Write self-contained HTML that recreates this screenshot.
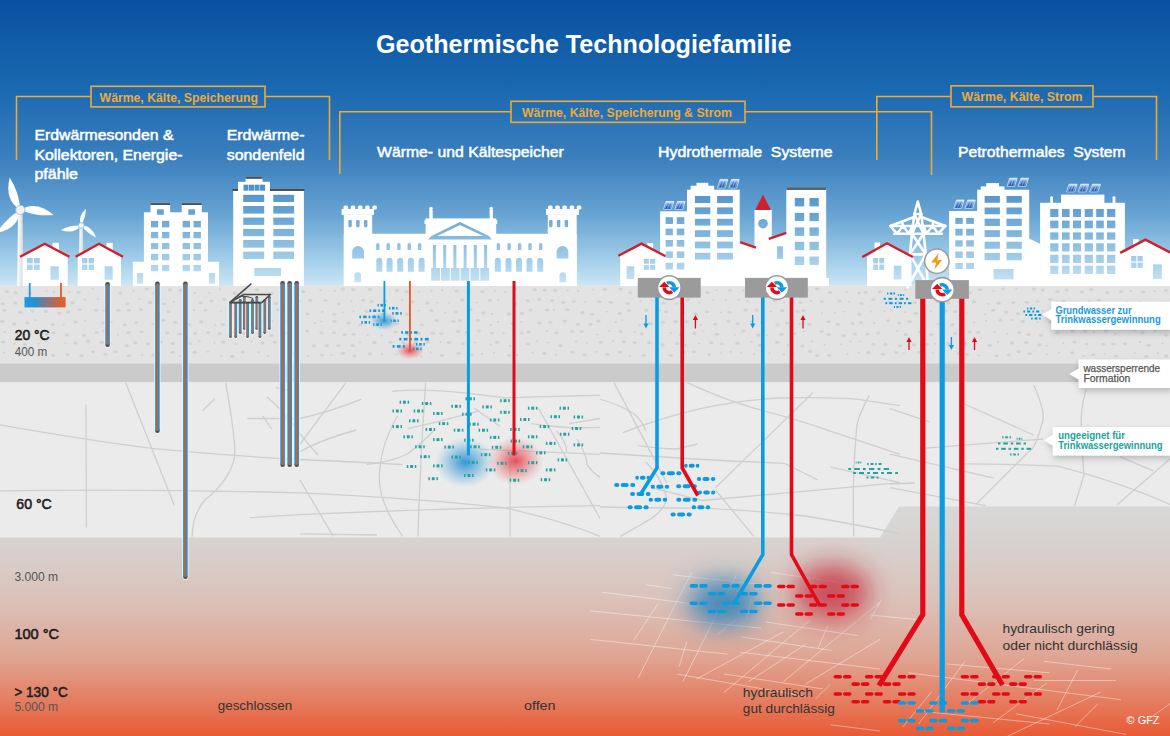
<!DOCTYPE html>
<html><head><meta charset="utf-8"><title>Geothermische Technologiefamilie</title>
<style>html,body{margin:0;padding:0;width:1170px;height:736px;overflow:hidden;background:#fff}svg{display:block}text{font-family:"Liberation Sans",sans-serif}</style>
</head><body>
<svg width="1170" height="736" viewBox="0 0 1170 736">
<defs>
<linearGradient id="sky" gradientUnits="userSpaceOnUse" x1="0" y1="0" x2="0" y2="290">
 <stop offset="0" stop-color="#0951a0"/>
 <stop offset="0.30" stop-color="#1a68b0"/>
 <stop offset="0.55" stop-color="#3c80be"/>
 <stop offset="0.75" stop-color="#6aa6d4"/>
 <stop offset="0.90" stop-color="#a4cfea"/>
 <stop offset="1" stop-color="#d2eaf7"/>
</linearGradient>
<linearGradient id="deep" gradientUnits="userSpaceOnUse" x1="0" y1="505" x2="0" y2="736">
 <stop offset="0" stop-color="#d8d8d8"/>
 <stop offset="0.14" stop-color="#d7d3d1"/>
 <stop offset="0.40" stop-color="#dac3bb"/>
 <stop offset="0.66" stop-color="#dfa593"/>
 <stop offset="0.84" stop-color="#e47f63"/>
 <stop offset="1" stop-color="#e95a33"/>
</linearGradient>
<linearGradient id="coll" x1="0" y1="0" x2="1" y2="0">
 <stop offset="0" stop-color="#1a9be0"/>
 <stop offset="0.25" stop-color="#2a8fcf"/>
 <stop offset="0.55" stop-color="#8a7480"/>
 <stop offset="1" stop-color="#ef5a22"/>
</linearGradient>
<linearGradient id="solar" x1="0" y1="0" x2="0" y2="1"><stop offset="0" stop-color="#f4f9ff"/><stop offset="0.35" stop-color="#5f8fd6"/><stop offset="1" stop-color="#0c45a6"/></linearGradient>
<linearGradient id="tower" x1="0" y1="0" x2="1" y2="0">
 <stop offset="0" stop-color="#ffffff"/>
 <stop offset="1" stop-color="#d6d6d6"/>
</linearGradient>
<radialGradient id="gBlue"><stop offset="0" stop-color="#2b93d6" stop-opacity="0.95"/><stop offset="0.5" stop-color="#48a0d8" stop-opacity="0.5"/><stop offset="1" stop-color="#6ab4e0" stop-opacity="0"/></radialGradient>
<radialGradient id="gRed"><stop offset="0" stop-color="#e63c48" stop-opacity="0.9"/><stop offset="0.5" stop-color="#e8555e" stop-opacity="0.45"/><stop offset="1" stop-color="#ec7076" stop-opacity="0"/></radialGradient>
<radialGradient id="gBlueD"><stop offset="0" stop-color="#3486ba" stop-opacity="0.95"/><stop offset="0.55" stop-color="#4a8fbd" stop-opacity="0.6"/><stop offset="1" stop-color="#5a9dc6" stop-opacity="0"/></radialGradient>
<radialGradient id="gRedD"><stop offset="0" stop-color="#c8202e" stop-opacity="0.85"/><stop offset="0.5" stop-color="#cc2c3a" stop-opacity="0.6"/><stop offset="1" stop-color="#d84050" stop-opacity="0"/></radialGradient>
<filter id="blur14" x="-100%" y="-100%" width="300%" height="300%"><feGaussianBlur stdDeviation="13"/></filter>
<filter id="blur6" x="-100%" y="-100%" width="300%" height="300%"><feGaussianBlur stdDeviation="6"/></filter>
<filter id="shadow" x="-20%" y="-30%" width="140%" height="170%"><feDropShadow dx="1" dy="3" stdDeviation="3.2" flood-color="#000" flood-opacity="0.22"/></filter>
</defs>
<rect x="0" y="0" width="1170" height="290" fill="url(#sky)"/>
<rect x="0" y="500" width="1170" height="236" fill="url(#deep)"/>
<rect x="0" y="285" width="1170" height="79" fill="#e3e3e3"/>
<rect x="0" y="363.5" width="1170" height="19" fill="#cbcbcb"/>
<polygon points="0,382.5 1170,382.5 1170,506.5 899,506.5 880,537.5 0,537.5" fill="#ebebeb"/>
<g fill="#d2d2d2"><ellipse cx="-7.8" cy="291.2" rx="2.2" ry="1.55"/><ellipse cx="7.2" cy="291.6" rx="2.2" ry="1.55"/><ellipse cx="15.6" cy="292.7" rx="2.2" ry="1.55"/><ellipse cx="29.6" cy="293.5" rx="2.2" ry="1.55"/><ellipse cx="46.4" cy="290.9" rx="1.3" ry="0.95"/><ellipse cx="54.1" cy="291.7" rx="1.3" ry="0.95"/><ellipse cx="69.2" cy="292.2" rx="1.3" ry="0.95"/><ellipse cx="78.4" cy="292.3" rx="2.2" ry="1.55"/><ellipse cx="92.6" cy="288.7" rx="1.3" ry="0.95"/><ellipse cx="106.3" cy="292.1" rx="1.3" ry="0.95"/><ellipse cx="120.5" cy="293.1" rx="2.2" ry="1.55"/><ellipse cx="133.6" cy="290.7" rx="1.3" ry="0.95"/><ellipse cx="146.7" cy="289.0" rx="2.2" ry="1.55"/><ellipse cx="154.5" cy="293.3" rx="2.2" ry="1.55"/><ellipse cx="169.9" cy="290.0" rx="2.2" ry="1.55"/><ellipse cx="180.7" cy="290.3" rx="2.2" ry="1.55"/><ellipse cx="194.6" cy="293.0" rx="1.3" ry="0.95"/><ellipse cx="209.5" cy="292.8" rx="1.3" ry="0.95"/><ellipse cx="220.2" cy="289.3" rx="1.3" ry="0.95"/><ellipse cx="234.8" cy="293.0" rx="2.2" ry="1.55"/><ellipse cx="245.5" cy="289.6" rx="1.3" ry="0.95"/><ellipse cx="257.0" cy="289.9" rx="2.2" ry="1.55"/><ellipse cx="271.5" cy="293.4" rx="2.2" ry="1.55"/><ellipse cx="283.6" cy="290.6" rx="2.2" ry="1.55"/><ellipse cx="292.6" cy="292.3" rx="1.3" ry="0.95"/><ellipse cx="303.3" cy="291.6" rx="2.2" ry="1.55"/><ellipse cx="320.5" cy="290.2" rx="1.3" ry="0.95"/><ellipse cx="334.9" cy="291.0" rx="1.3" ry="0.95"/><ellipse cx="342.7" cy="288.9" rx="2.2" ry="1.55"/><ellipse cx="353.2" cy="289.5" rx="2.2" ry="1.55"/><ellipse cx="369.8" cy="289.3" rx="2.2" ry="1.55"/><ellipse cx="384.1" cy="290.1" rx="1.3" ry="0.95"/><ellipse cx="396.8" cy="290.4" rx="2.2" ry="1.55"/><ellipse cx="406.6" cy="291.7" rx="2.2" ry="1.55"/><ellipse cx="419.4" cy="291.6" rx="1.3" ry="0.95"/><ellipse cx="431.5" cy="290.7" rx="1.3" ry="0.95"/><ellipse cx="442.2" cy="290.0" rx="1.3" ry="0.95"/><ellipse cx="456.6" cy="291.2" rx="2.2" ry="1.55"/><ellipse cx="468.4" cy="291.4" rx="2.2" ry="1.55"/><ellipse cx="482.3" cy="291.7" rx="2.2" ry="1.55"/><ellipse cx="494.9" cy="290.8" rx="1.3" ry="0.95"/><ellipse cx="505.5" cy="292.0" rx="1.3" ry="0.95"/><ellipse cx="515.7" cy="288.8" rx="1.3" ry="0.95"/><ellipse cx="534.7" cy="289.8" rx="2.2" ry="1.55"/><ellipse cx="544.6" cy="290.1" rx="2.2" ry="1.55"/><ellipse cx="555.2" cy="290.3" rx="2.2" ry="1.55"/><ellipse cx="567.6" cy="290.4" rx="1.3" ry="0.95"/><ellipse cx="578.2" cy="291.3" rx="1.3" ry="0.95"/><ellipse cx="592.7" cy="289.6" rx="1.3" ry="0.95"/><ellipse cx="604.7" cy="289.4" rx="2.2" ry="1.55"/><ellipse cx="620.4" cy="289.0" rx="2.2" ry="1.55"/><ellipse cx="630.3" cy="292.7" rx="2.2" ry="1.55"/><ellipse cx="646.5" cy="289.3" rx="2.2" ry="1.55"/><ellipse cx="657.6" cy="292.9" rx="2.2" ry="1.55"/><ellipse cx="667.1" cy="289.1" rx="2.2" ry="1.55"/><ellipse cx="679.3" cy="292.5" rx="1.3" ry="0.95"/><ellipse cx="691.8" cy="289.9" rx="1.3" ry="0.95"/><ellipse cx="707.5" cy="292.5" rx="2.2" ry="1.55"/><ellipse cx="716.4" cy="290.0" rx="1.3" ry="0.95"/><ellipse cx="729.9" cy="290.2" rx="2.2" ry="1.55"/><ellipse cx="743.4" cy="290.5" rx="1.3" ry="0.95"/><ellipse cx="754.1" cy="288.5" rx="1.3" ry="0.95"/><ellipse cx="771.7" cy="293.4" rx="2.2" ry="1.55"/><ellipse cx="784.7" cy="293.1" rx="2.2" ry="1.55"/><ellipse cx="795.7" cy="292.7" rx="1.3" ry="0.95"/><ellipse cx="806.6" cy="289.9" rx="2.2" ry="1.55"/><ellipse cx="817.1" cy="288.8" rx="2.2" ry="1.55"/><ellipse cx="830.0" cy="292.6" rx="2.2" ry="1.55"/><ellipse cx="846.8" cy="292.0" rx="1.3" ry="0.95"/><ellipse cx="859.3" cy="293.0" rx="2.2" ry="1.55"/><ellipse cx="865.6" cy="292.2" rx="2.2" ry="1.55"/><ellipse cx="880.1" cy="291.8" rx="2.2" ry="1.55"/><ellipse cx="893.4" cy="293.2" rx="2.2" ry="1.55"/><ellipse cx="905.4" cy="289.8" rx="1.3" ry="0.95"/><ellipse cx="918.8" cy="292.4" rx="2.2" ry="1.55"/><ellipse cx="929.4" cy="291.2" rx="1.3" ry="0.95"/><ellipse cx="941.7" cy="292.5" rx="1.3" ry="0.95"/><ellipse cx="958.6" cy="292.6" rx="2.2" ry="1.55"/><ellipse cx="969.9" cy="292.8" rx="2.2" ry="1.55"/><ellipse cx="979.9" cy="289.8" rx="2.2" ry="1.55"/><ellipse cx="993.5" cy="290.9" rx="1.3" ry="0.95"/><ellipse cx="1003.0" cy="288.8" rx="2.2" ry="1.55"/><ellipse cx="1016.4" cy="288.8" rx="1.3" ry="0.95"/><ellipse cx="1034.0" cy="288.9" rx="2.2" ry="1.55"/><ellipse cx="1042.7" cy="290.1" rx="2.2" ry="1.55"/><ellipse cx="1057.5" cy="291.4" rx="2.2" ry="1.55"/><ellipse cx="1066.8" cy="290.1" rx="2.2" ry="1.55"/><ellipse cx="1081.9" cy="292.1" rx="2.2" ry="1.55"/><ellipse cx="1091.1" cy="289.4" rx="2.2" ry="1.55"/><ellipse cx="1107.2" cy="292.4" rx="2.2" ry="1.55"/><ellipse cx="1121.1" cy="291.6" rx="2.2" ry="1.55"/><ellipse cx="1130.6" cy="291.0" rx="1.3" ry="0.95"/><ellipse cx="1143.4" cy="292.0" rx="2.2" ry="1.55"/><ellipse cx="1154.7" cy="291.2" rx="1.3" ry="0.95"/><ellipse cx="1166.0" cy="290.6" rx="2.2" ry="1.55"/><ellipse cx="2.7" cy="303.7" rx="2.2" ry="1.55"/><ellipse cx="15.3" cy="303.0" rx="2.2" ry="1.55"/><ellipse cx="24.7" cy="299.6" rx="1.3" ry="0.95"/><ellipse cx="38.6" cy="303.4" rx="1.3" ry="0.95"/><ellipse cx="51.2" cy="302.7" rx="2.2" ry="1.55"/><ellipse cx="59.7" cy="301.9" rx="2.2" ry="1.55"/><ellipse cx="72.5" cy="302.9" rx="2.2" ry="1.55"/><ellipse cx="84.6" cy="299.5" rx="1.3" ry="0.95"/><ellipse cx="97.8" cy="299.1" rx="1.3" ry="0.95"/><ellipse cx="109.8" cy="303.2" rx="1.3" ry="0.95"/><ellipse cx="127.4" cy="303.8" rx="2.2" ry="1.55"/><ellipse cx="139.6" cy="299.2" rx="1.3" ry="0.95"/><ellipse cx="150.1" cy="302.6" rx="2.2" ry="1.55"/><ellipse cx="164.2" cy="303.7" rx="2.2" ry="1.55"/><ellipse cx="173.8" cy="301.8" rx="1.3" ry="0.95"/><ellipse cx="185.7" cy="299.9" rx="2.2" ry="1.55"/><ellipse cx="200.8" cy="302.8" rx="2.2" ry="1.55"/><ellipse cx="211.6" cy="301.0" rx="2.2" ry="1.55"/><ellipse cx="224.4" cy="299.4" rx="2.2" ry="1.55"/><ellipse cx="240.8" cy="301.1" rx="1.3" ry="0.95"/><ellipse cx="247.6" cy="302.5" rx="1.3" ry="0.95"/><ellipse cx="263.7" cy="301.6" rx="2.2" ry="1.55"/><ellipse cx="276.0" cy="303.5" rx="2.2" ry="1.55"/><ellipse cx="284.7" cy="302.7" rx="1.3" ry="0.95"/><ellipse cx="300.1" cy="301.2" rx="1.3" ry="0.95"/><ellipse cx="310.3" cy="300.3" rx="2.2" ry="1.55"/><ellipse cx="325.6" cy="300.6" rx="2.2" ry="1.55"/><ellipse cx="338.8" cy="303.8" rx="2.2" ry="1.55"/><ellipse cx="351.4" cy="301.1" rx="1.3" ry="0.95"/><ellipse cx="363.1" cy="300.3" rx="2.2" ry="1.55"/><ellipse cx="371.7" cy="301.4" rx="2.2" ry="1.55"/><ellipse cx="385.2" cy="300.8" rx="2.2" ry="1.55"/><ellipse cx="401.9" cy="299.7" rx="1.3" ry="0.95"/><ellipse cx="412.4" cy="302.0" rx="2.2" ry="1.55"/><ellipse cx="427.3" cy="303.1" rx="2.2" ry="1.55"/><ellipse cx="437.4" cy="302.6" rx="1.3" ry="0.95"/><ellipse cx="449.3" cy="302.7" rx="1.3" ry="0.95"/><ellipse cx="462.3" cy="300.1" rx="2.2" ry="1.55"/><ellipse cx="476.5" cy="302.4" rx="1.3" ry="0.95"/><ellipse cx="490.0" cy="300.2" rx="2.2" ry="1.55"/><ellipse cx="498.3" cy="299.9" rx="1.3" ry="0.95"/><ellipse cx="515.0" cy="303.5" rx="2.2" ry="1.55"/><ellipse cx="527.6" cy="300.6" rx="2.2" ry="1.55"/><ellipse cx="539.1" cy="299.4" rx="2.2" ry="1.55"/><ellipse cx="552.3" cy="300.5" rx="2.2" ry="1.55"/><ellipse cx="563.1" cy="302.4" rx="2.2" ry="1.55"/><ellipse cx="573.8" cy="301.2" rx="2.2" ry="1.55"/><ellipse cx="585.5" cy="301.9" rx="1.3" ry="0.95"/><ellipse cx="599.2" cy="301.7" rx="2.2" ry="1.55"/><ellipse cx="610.9" cy="302.3" rx="2.2" ry="1.55"/><ellipse cx="627.7" cy="303.5" rx="2.2" ry="1.55"/><ellipse cx="640.6" cy="300.9" rx="1.3" ry="0.95"/><ellipse cx="651.8" cy="300.5" rx="1.3" ry="0.95"/><ellipse cx="663.6" cy="303.0" rx="2.2" ry="1.55"/><ellipse cx="676.8" cy="303.8" rx="1.3" ry="0.95"/><ellipse cx="687.8" cy="299.6" rx="2.2" ry="1.55"/><ellipse cx="699.0" cy="302.6" rx="1.3" ry="0.95"/><ellipse cx="713.0" cy="299.9" rx="1.3" ry="0.95"/><ellipse cx="725.9" cy="299.9" rx="1.3" ry="0.95"/><ellipse cx="738.6" cy="299.6" rx="1.3" ry="0.95"/><ellipse cx="747.5" cy="300.7" rx="1.3" ry="0.95"/><ellipse cx="763.2" cy="301.8" rx="1.3" ry="0.95"/><ellipse cx="774.7" cy="300.6" rx="2.2" ry="1.55"/><ellipse cx="784.5" cy="302.6" rx="1.3" ry="0.95"/><ellipse cx="800.3" cy="302.7" rx="2.2" ry="1.55"/><ellipse cx="810.9" cy="300.9" rx="1.3" ry="0.95"/><ellipse cx="821.8" cy="301.5" rx="2.2" ry="1.55"/><ellipse cx="839.4" cy="300.8" rx="2.2" ry="1.55"/><ellipse cx="849.3" cy="301.7" rx="1.3" ry="0.95"/><ellipse cx="861.5" cy="303.2" rx="2.2" ry="1.55"/><ellipse cx="873.4" cy="299.5" rx="2.2" ry="1.55"/><ellipse cx="889.5" cy="302.6" rx="2.2" ry="1.55"/><ellipse cx="897.8" cy="301.1" rx="1.3" ry="0.95"/><ellipse cx="914.7" cy="302.7" rx="2.2" ry="1.55"/><ellipse cx="922.5" cy="301.0" rx="2.2" ry="1.55"/><ellipse cx="937.7" cy="301.8" rx="2.2" ry="1.55"/><ellipse cx="948.3" cy="302.9" rx="2.2" ry="1.55"/><ellipse cx="964.6" cy="303.5" rx="1.3" ry="0.95"/><ellipse cx="974.2" cy="301.8" rx="2.2" ry="1.55"/><ellipse cx="988.4" cy="303.9" rx="1.3" ry="0.95"/><ellipse cx="998.6" cy="303.3" rx="2.2" ry="1.55"/><ellipse cx="1013.2" cy="302.6" rx="2.2" ry="1.55"/><ellipse cx="1026.9" cy="302.3" rx="2.2" ry="1.55"/><ellipse cx="1037.7" cy="301.3" rx="2.2" ry="1.55"/><ellipse cx="1050.2" cy="299.2" rx="2.2" ry="1.55"/><ellipse cx="1063.5" cy="301.2" rx="2.2" ry="1.55"/><ellipse cx="1078.2" cy="303.5" rx="2.2" ry="1.55"/><ellipse cx="1089.5" cy="302.1" rx="2.2" ry="1.55"/><ellipse cx="1099.0" cy="300.2" rx="2.2" ry="1.55"/><ellipse cx="1112.8" cy="303.6" rx="2.2" ry="1.55"/><ellipse cx="1127.6" cy="302.5" rx="2.2" ry="1.55"/><ellipse cx="1140.0" cy="302.0" rx="1.3" ry="0.95"/><ellipse cx="1151.5" cy="302.7" rx="2.2" ry="1.55"/><ellipse cx="1164.6" cy="303.7" rx="1.3" ry="0.95"/><ellipse cx="1174.6" cy="302.8" rx="2.2" ry="1.55"/><ellipse cx="-8.7" cy="309.7" rx="2.2" ry="1.55"/><ellipse cx="4.4" cy="310.3" rx="2.2" ry="1.55"/><ellipse cx="20.4" cy="312.2" rx="2.2" ry="1.55"/><ellipse cx="32.5" cy="311.0" rx="2.2" ry="1.55"/><ellipse cx="45.8" cy="311.5" rx="2.2" ry="1.55"/><ellipse cx="59.3" cy="313.1" rx="2.2" ry="1.55"/><ellipse cx="68.1" cy="312.1" rx="2.2" ry="1.55"/><ellipse cx="79.6" cy="309.5" rx="2.2" ry="1.55"/><ellipse cx="96.0" cy="310.2" rx="2.2" ry="1.55"/><ellipse cx="104.4" cy="310.5" rx="2.2" ry="1.55"/><ellipse cx="118.3" cy="310.3" rx="2.2" ry="1.55"/><ellipse cx="128.8" cy="310.3" rx="2.2" ry="1.55"/><ellipse cx="140.9" cy="309.6" rx="2.2" ry="1.55"/><ellipse cx="155.9" cy="313.0" rx="2.2" ry="1.55"/><ellipse cx="168.3" cy="311.5" rx="2.2" ry="1.55"/><ellipse cx="184.8" cy="310.6" rx="2.2" ry="1.55"/><ellipse cx="193.8" cy="310.3" rx="1.3" ry="0.95"/><ellipse cx="205.4" cy="310.1" rx="2.2" ry="1.55"/><ellipse cx="220.6" cy="310.9" rx="1.3" ry="0.95"/><ellipse cx="231.3" cy="314.2" rx="2.2" ry="1.55"/><ellipse cx="242.2" cy="310.8" rx="1.3" ry="0.95"/><ellipse cx="257.4" cy="311.2" rx="2.2" ry="1.55"/><ellipse cx="270.3" cy="314.3" rx="2.2" ry="1.55"/><ellipse cx="278.0" cy="309.7" rx="2.2" ry="1.55"/><ellipse cx="291.7" cy="309.7" rx="2.2" ry="1.55"/><ellipse cx="307.6" cy="314.0" rx="2.2" ry="1.55"/><ellipse cx="322.3" cy="311.9" rx="1.3" ry="0.95"/><ellipse cx="334.4" cy="314.2" rx="2.2" ry="1.55"/><ellipse cx="342.6" cy="312.5" rx="1.3" ry="0.95"/><ellipse cx="353.6" cy="311.0" rx="1.3" ry="0.95"/><ellipse cx="366.3" cy="311.4" rx="2.2" ry="1.55"/><ellipse cx="382.8" cy="314.1" rx="2.2" ry="1.55"/><ellipse cx="395.7" cy="313.2" rx="1.3" ry="0.95"/><ellipse cx="406.9" cy="314.1" rx="2.2" ry="1.55"/><ellipse cx="418.4" cy="310.6" rx="1.3" ry="0.95"/><ellipse cx="431.4" cy="310.8" rx="2.2" ry="1.55"/><ellipse cx="445.5" cy="312.5" rx="1.3" ry="0.95"/><ellipse cx="455.7" cy="311.9" rx="2.2" ry="1.55"/><ellipse cx="470.5" cy="309.6" rx="2.2" ry="1.55"/><ellipse cx="483.3" cy="312.9" rx="2.2" ry="1.55"/><ellipse cx="492.2" cy="313.7" rx="1.3" ry="0.95"/><ellipse cx="509.1" cy="313.9" rx="2.2" ry="1.55"/><ellipse cx="521.8" cy="313.2" rx="2.2" ry="1.55"/><ellipse cx="530.6" cy="309.9" rx="2.2" ry="1.55"/><ellipse cx="547.2" cy="310.0" rx="2.2" ry="1.55"/><ellipse cx="553.8" cy="309.9" rx="1.3" ry="0.95"/><ellipse cx="567.2" cy="309.7" rx="2.2" ry="1.55"/><ellipse cx="582.5" cy="312.4" rx="2.2" ry="1.55"/><ellipse cx="592.1" cy="314.3" rx="2.2" ry="1.55"/><ellipse cx="606.9" cy="311.6" rx="1.3" ry="0.95"/><ellipse cx="619.7" cy="313.4" rx="2.2" ry="1.55"/><ellipse cx="629.3" cy="310.4" rx="2.2" ry="1.55"/><ellipse cx="646.3" cy="310.1" rx="2.2" ry="1.55"/><ellipse cx="659.8" cy="310.5" rx="1.3" ry="0.95"/><ellipse cx="666.1" cy="311.8" rx="2.2" ry="1.55"/><ellipse cx="683.8" cy="312.6" rx="1.3" ry="0.95"/><ellipse cx="695.8" cy="313.9" rx="2.2" ry="1.55"/><ellipse cx="707.2" cy="311.7" rx="2.2" ry="1.55"/><ellipse cx="721.3" cy="312.5" rx="1.3" ry="0.95"/><ellipse cx="729.4" cy="312.2" rx="2.2" ry="1.55"/><ellipse cx="745.6" cy="309.9" rx="2.2" ry="1.55"/><ellipse cx="756.4" cy="309.9" rx="2.2" ry="1.55"/><ellipse cx="770.6" cy="311.6" rx="1.3" ry="0.95"/><ellipse cx="782.2" cy="310.6" rx="2.2" ry="1.55"/><ellipse cx="797.5" cy="311.2" rx="2.2" ry="1.55"/><ellipse cx="803.6" cy="310.6" rx="2.2" ry="1.55"/><ellipse cx="822.0" cy="313.1" rx="1.3" ry="0.95"/><ellipse cx="834.9" cy="312.6" rx="1.3" ry="0.95"/><ellipse cx="844.3" cy="311.6" rx="1.3" ry="0.95"/><ellipse cx="859.3" cy="314.2" rx="2.2" ry="1.55"/><ellipse cx="870.9" cy="311.5" rx="1.3" ry="0.95"/><ellipse cx="884.4" cy="311.0" rx="1.3" ry="0.95"/><ellipse cx="891.8" cy="310.0" rx="1.3" ry="0.95"/><ellipse cx="905.1" cy="312.1" rx="1.3" ry="0.95"/><ellipse cx="915.8" cy="313.2" rx="2.2" ry="1.55"/><ellipse cx="931.0" cy="311.2" rx="1.3" ry="0.95"/><ellipse cx="945.7" cy="310.9" rx="2.2" ry="1.55"/><ellipse cx="955.1" cy="311.6" rx="2.2" ry="1.55"/><ellipse cx="966.6" cy="313.3" rx="1.3" ry="0.95"/><ellipse cx="984.8" cy="314.4" rx="1.3" ry="0.95"/><ellipse cx="993.1" cy="310.3" rx="2.2" ry="1.55"/><ellipse cx="1006.2" cy="312.1" rx="2.2" ry="1.55"/><ellipse cx="1018.0" cy="313.8" rx="2.2" ry="1.55"/><ellipse cx="1031.2" cy="313.9" rx="1.3" ry="0.95"/><ellipse cx="1042.6" cy="310.7" rx="1.3" ry="0.95"/><ellipse cx="1053.1" cy="310.2" rx="2.2" ry="1.55"/><ellipse cx="1069.3" cy="310.3" rx="2.2" ry="1.55"/><ellipse cx="1079.4" cy="313.3" rx="2.2" ry="1.55"/><ellipse cx="1097.4" cy="313.4" rx="1.3" ry="0.95"/><ellipse cx="1103.2" cy="310.4" rx="2.2" ry="1.55"/><ellipse cx="1118.5" cy="311.2" rx="2.2" ry="1.55"/><ellipse cx="1131.8" cy="310.0" rx="2.2" ry="1.55"/><ellipse cx="1142.2" cy="313.5" rx="2.2" ry="1.55"/><ellipse cx="1154.8" cy="309.7" rx="2.2" ry="1.55"/><ellipse cx="1169.9" cy="312.9" rx="1.3" ry="0.95"/><ellipse cx="2.2" cy="321.2" rx="2.2" ry="1.55"/><ellipse cx="14.3" cy="323.9" rx="2.2" ry="1.55"/><ellipse cx="27.3" cy="322.8" rx="2.2" ry="1.55"/><ellipse cx="35.2" cy="320.1" rx="1.3" ry="0.95"/><ellipse cx="52.8" cy="324.5" rx="2.2" ry="1.55"/><ellipse cx="63.7" cy="324.6" rx="1.3" ry="0.95"/><ellipse cx="75.7" cy="322.1" rx="2.2" ry="1.55"/><ellipse cx="85.2" cy="320.9" rx="1.3" ry="0.95"/><ellipse cx="103.4" cy="322.7" rx="2.2" ry="1.55"/><ellipse cx="111.5" cy="322.3" rx="1.3" ry="0.95"/><ellipse cx="124.7" cy="324.8" rx="2.2" ry="1.55"/><ellipse cx="136.2" cy="322.6" rx="2.2" ry="1.55"/><ellipse cx="152.5" cy="324.1" rx="1.3" ry="0.95"/><ellipse cx="163.3" cy="320.2" rx="2.2" ry="1.55"/><ellipse cx="175.3" cy="322.4" rx="2.2" ry="1.55"/><ellipse cx="189.0" cy="324.6" rx="2.2" ry="1.55"/><ellipse cx="201.2" cy="321.9" rx="2.2" ry="1.55"/><ellipse cx="215.3" cy="324.8" rx="1.3" ry="0.95"/><ellipse cx="222.9" cy="324.6" rx="2.2" ry="1.55"/><ellipse cx="236.7" cy="324.1" rx="2.2" ry="1.55"/><ellipse cx="248.4" cy="324.7" rx="1.3" ry="0.95"/><ellipse cx="261.2" cy="322.0" rx="2.2" ry="1.55"/><ellipse cx="272.4" cy="321.3" rx="1.3" ry="0.95"/><ellipse cx="284.6" cy="321.1" rx="2.2" ry="1.55"/><ellipse cx="297.1" cy="322.6" rx="1.3" ry="0.95"/><ellipse cx="314.9" cy="323.2" rx="1.3" ry="0.95"/><ellipse cx="321.5" cy="321.4" rx="1.3" ry="0.95"/><ellipse cx="334.5" cy="321.3" rx="2.2" ry="1.55"/><ellipse cx="348.4" cy="322.7" rx="2.2" ry="1.55"/><ellipse cx="360.7" cy="324.8" rx="2.2" ry="1.55"/><ellipse cx="377.8" cy="320.9" rx="1.3" ry="0.95"/><ellipse cx="388.7" cy="323.2" rx="2.2" ry="1.55"/><ellipse cx="396.9" cy="323.8" rx="2.2" ry="1.55"/><ellipse cx="410.3" cy="324.1" rx="1.3" ry="0.95"/><ellipse cx="421.8" cy="324.8" rx="2.2" ry="1.55"/><ellipse cx="436.7" cy="320.5" rx="2.2" ry="1.55"/><ellipse cx="453.4" cy="321.4" rx="2.2" ry="1.55"/><ellipse cx="460.0" cy="320.6" rx="2.2" ry="1.55"/><ellipse cx="477.9" cy="320.4" rx="2.2" ry="1.55"/><ellipse cx="490.6" cy="325.0" rx="1.3" ry="0.95"/><ellipse cx="498.2" cy="321.8" rx="1.3" ry="0.95"/><ellipse cx="512.4" cy="323.5" rx="2.2" ry="1.55"/><ellipse cx="521.6" cy="321.7" rx="1.3" ry="0.95"/><ellipse cx="539.5" cy="322.8" rx="2.2" ry="1.55"/><ellipse cx="550.3" cy="322.2" rx="2.2" ry="1.55"/><ellipse cx="564.8" cy="321.0" rx="2.2" ry="1.55"/><ellipse cx="578.0" cy="324.2" rx="2.2" ry="1.55"/><ellipse cx="590.7" cy="324.2" rx="2.2" ry="1.55"/><ellipse cx="598.4" cy="321.0" rx="2.2" ry="1.55"/><ellipse cx="615.8" cy="322.0" rx="1.3" ry="0.95"/><ellipse cx="622.3" cy="320.1" rx="1.3" ry="0.95"/><ellipse cx="639.6" cy="325.0" rx="1.3" ry="0.95"/><ellipse cx="650.2" cy="323.8" rx="2.2" ry="1.55"/><ellipse cx="662.8" cy="322.2" rx="2.2" ry="1.55"/><ellipse cx="675.7" cy="321.6" rx="2.2" ry="1.55"/><ellipse cx="686.6" cy="321.6" rx="2.2" ry="1.55"/><ellipse cx="700.7" cy="324.9" rx="1.3" ry="0.95"/><ellipse cx="715.0" cy="324.2" rx="2.2" ry="1.55"/><ellipse cx="728.3" cy="321.3" rx="2.2" ry="1.55"/><ellipse cx="737.5" cy="323.7" rx="2.2" ry="1.55"/><ellipse cx="751.0" cy="321.4" rx="1.3" ry="0.95"/><ellipse cx="762.2" cy="322.4" rx="2.2" ry="1.55"/><ellipse cx="777.6" cy="324.9" rx="2.2" ry="1.55"/><ellipse cx="787.1" cy="323.1" rx="2.2" ry="1.55"/><ellipse cx="799.5" cy="324.2" rx="1.3" ry="0.95"/><ellipse cx="809.4" cy="324.3" rx="2.2" ry="1.55"/><ellipse cx="828.4" cy="321.8" rx="2.2" ry="1.55"/><ellipse cx="837.8" cy="324.4" rx="2.2" ry="1.55"/><ellipse cx="852.6" cy="323.6" rx="2.2" ry="1.55"/><ellipse cx="861.1" cy="322.5" rx="2.2" ry="1.55"/><ellipse cx="874.1" cy="323.3" rx="1.3" ry="0.95"/><ellipse cx="888.1" cy="320.7" rx="2.2" ry="1.55"/><ellipse cx="899.1" cy="323.1" rx="2.2" ry="1.55"/><ellipse cx="909.6" cy="321.6" rx="2.2" ry="1.55"/><ellipse cx="921.7" cy="322.7" rx="1.3" ry="0.95"/><ellipse cx="937.7" cy="323.7" rx="1.3" ry="0.95"/><ellipse cx="952.4" cy="324.6" rx="2.2" ry="1.55"/><ellipse cx="963.8" cy="320.6" rx="1.3" ry="0.95"/><ellipse cx="974.1" cy="322.4" rx="1.3" ry="0.95"/><ellipse cx="986.0" cy="320.9" rx="1.3" ry="0.95"/><ellipse cx="1000.7" cy="320.4" rx="2.2" ry="1.55"/><ellipse cx="1011.5" cy="320.0" rx="1.3" ry="0.95"/><ellipse cx="1022.8" cy="321.4" rx="2.2" ry="1.55"/><ellipse cx="1037.6" cy="322.2" rx="1.3" ry="0.95"/><ellipse cx="1051.1" cy="322.2" rx="2.2" ry="1.55"/><ellipse cx="1065.9" cy="323.5" rx="2.2" ry="1.55"/><ellipse cx="1074.6" cy="323.8" rx="1.3" ry="0.95"/><ellipse cx="1084.5" cy="320.0" rx="2.2" ry="1.55"/><ellipse cx="1099.5" cy="324.5" rx="1.3" ry="0.95"/><ellipse cx="1111.3" cy="322.1" rx="2.2" ry="1.55"/><ellipse cx="1127.7" cy="321.0" rx="2.2" ry="1.55"/><ellipse cx="1134.6" cy="323.2" rx="2.2" ry="1.55"/><ellipse cx="1153.0" cy="322.6" rx="2.2" ry="1.55"/><ellipse cx="1159.6" cy="321.2" rx="2.2" ry="1.55"/><ellipse cx="1177.5" cy="322.7" rx="2.2" ry="1.55"/><ellipse cx="-2.6" cy="333.8" rx="2.2" ry="1.55"/><ellipse cx="4.4" cy="332.0" rx="1.3" ry="0.95"/><ellipse cx="16.4" cy="333.2" rx="2.2" ry="1.55"/><ellipse cx="30.5" cy="334.3" rx="1.3" ry="0.95"/><ellipse cx="46.5" cy="334.2" rx="2.2" ry="1.55"/><ellipse cx="53.4" cy="332.7" rx="2.2" ry="1.55"/><ellipse cx="66.9" cy="334.9" rx="2.2" ry="1.55"/><ellipse cx="83.8" cy="335.2" rx="2.2" ry="1.55"/><ellipse cx="96.9" cy="332.5" rx="2.2" ry="1.55"/><ellipse cx="104.3" cy="330.7" rx="2.2" ry="1.55"/><ellipse cx="118.2" cy="334.8" rx="1.3" ry="0.95"/><ellipse cx="128.4" cy="332.5" rx="2.2" ry="1.55"/><ellipse cx="141.7" cy="331.8" rx="2.2" ry="1.55"/><ellipse cx="157.9" cy="332.2" rx="2.2" ry="1.55"/><ellipse cx="167.0" cy="332.7" rx="2.2" ry="1.55"/><ellipse cx="179.7" cy="334.0" rx="2.2" ry="1.55"/><ellipse cx="195.2" cy="333.5" rx="2.2" ry="1.55"/><ellipse cx="208.3" cy="332.5" rx="2.2" ry="1.55"/><ellipse cx="219.7" cy="333.6" rx="2.2" ry="1.55"/><ellipse cx="228.4" cy="334.4" rx="1.3" ry="0.95"/><ellipse cx="243.9" cy="333.4" rx="2.2" ry="1.55"/><ellipse cx="259.3" cy="333.9" rx="2.2" ry="1.55"/><ellipse cx="271.2" cy="335.4" rx="2.2" ry="1.55"/><ellipse cx="285.0" cy="332.9" rx="2.2" ry="1.55"/><ellipse cx="295.5" cy="332.2" rx="1.3" ry="0.95"/><ellipse cx="307.1" cy="331.0" rx="2.2" ry="1.55"/><ellipse cx="321.5" cy="332.9" rx="2.2" ry="1.55"/><ellipse cx="334.0" cy="332.7" rx="2.2" ry="1.55"/><ellipse cx="344.6" cy="334.6" rx="2.2" ry="1.55"/><ellipse cx="353.7" cy="334.3" rx="2.2" ry="1.55"/><ellipse cx="367.6" cy="335.0" rx="1.3" ry="0.95"/><ellipse cx="381.8" cy="335.4" rx="1.3" ry="0.95"/><ellipse cx="395.7" cy="332.0" rx="2.2" ry="1.55"/><ellipse cx="407.8" cy="334.2" rx="2.2" ry="1.55"/><ellipse cx="418.9" cy="333.3" rx="2.2" ry="1.55"/><ellipse cx="432.9" cy="333.3" rx="2.2" ry="1.55"/><ellipse cx="441.3" cy="333.3" rx="2.2" ry="1.55"/><ellipse cx="458.1" cy="331.4" rx="2.2" ry="1.55"/><ellipse cx="466.9" cy="332.5" rx="2.2" ry="1.55"/><ellipse cx="478.7" cy="330.8" rx="2.2" ry="1.55"/><ellipse cx="491.9" cy="333.0" rx="2.2" ry="1.55"/><ellipse cx="503.7" cy="333.2" rx="1.3" ry="0.95"/><ellipse cx="521.6" cy="333.1" rx="2.2" ry="1.55"/><ellipse cx="528.5" cy="331.9" rx="2.2" ry="1.55"/><ellipse cx="547.1" cy="331.1" rx="1.3" ry="0.95"/><ellipse cx="556.3" cy="332.7" rx="2.2" ry="1.55"/><ellipse cx="572.2" cy="331.4" rx="2.2" ry="1.55"/><ellipse cx="581.6" cy="331.5" rx="2.2" ry="1.55"/><ellipse cx="597.4" cy="334.5" rx="1.3" ry="0.95"/><ellipse cx="609.3" cy="331.0" rx="1.3" ry="0.95"/><ellipse cx="620.8" cy="331.6" rx="2.2" ry="1.55"/><ellipse cx="634.8" cy="332.1" rx="1.3" ry="0.95"/><ellipse cx="641.7" cy="333.8" rx="2.2" ry="1.55"/><ellipse cx="656.6" cy="332.4" rx="1.3" ry="0.95"/><ellipse cx="670.7" cy="333.0" rx="1.3" ry="0.95"/><ellipse cx="681.0" cy="334.5" rx="2.2" ry="1.55"/><ellipse cx="694.3" cy="333.4" rx="2.2" ry="1.55"/><ellipse cx="703.3" cy="331.3" rx="1.3" ry="0.95"/><ellipse cx="717.0" cy="334.3" rx="2.2" ry="1.55"/><ellipse cx="734.7" cy="334.7" rx="1.3" ry="0.95"/><ellipse cx="743.1" cy="330.7" rx="2.2" ry="1.55"/><ellipse cx="758.2" cy="335.1" rx="2.2" ry="1.55"/><ellipse cx="766.6" cy="335.4" rx="1.3" ry="0.95"/><ellipse cx="781.4" cy="334.2" rx="2.2" ry="1.55"/><ellipse cx="794.3" cy="333.8" rx="2.2" ry="1.55"/><ellipse cx="804.1" cy="331.2" rx="1.3" ry="0.95"/><ellipse cx="821.7" cy="331.2" rx="2.2" ry="1.55"/><ellipse cx="828.6" cy="334.4" rx="2.2" ry="1.55"/><ellipse cx="843.7" cy="335.5" rx="2.2" ry="1.55"/><ellipse cx="854.8" cy="334.0" rx="2.2" ry="1.55"/><ellipse cx="867.5" cy="334.0" rx="2.2" ry="1.55"/><ellipse cx="878.2" cy="333.1" rx="2.2" ry="1.55"/><ellipse cx="897.3" cy="331.0" rx="1.3" ry="0.95"/><ellipse cx="905.7" cy="334.5" rx="2.2" ry="1.55"/><ellipse cx="920.2" cy="332.1" rx="2.2" ry="1.55"/><ellipse cx="931.2" cy="334.5" rx="2.2" ry="1.55"/><ellipse cx="942.1" cy="332.6" rx="2.2" ry="1.55"/><ellipse cx="955.2" cy="333.4" rx="2.2" ry="1.55"/><ellipse cx="969.7" cy="332.0" rx="2.2" ry="1.55"/><ellipse cx="978.2" cy="332.2" rx="2.2" ry="1.55"/><ellipse cx="994.5" cy="331.8" rx="1.3" ry="0.95"/><ellipse cx="1007.2" cy="333.8" rx="1.3" ry="0.95"/><ellipse cx="1019.2" cy="332.6" rx="2.2" ry="1.55"/><ellipse cx="1028.4" cy="334.5" rx="2.2" ry="1.55"/><ellipse cx="1041.2" cy="335.1" rx="2.2" ry="1.55"/><ellipse cx="1057.4" cy="332.7" rx="2.2" ry="1.55"/><ellipse cx="1072.5" cy="331.3" rx="2.2" ry="1.55"/><ellipse cx="1085.0" cy="331.1" rx="2.2" ry="1.55"/><ellipse cx="1093.9" cy="331.7" rx="1.3" ry="0.95"/><ellipse cx="1105.9" cy="330.6" rx="2.2" ry="1.55"/><ellipse cx="1115.5" cy="334.0" rx="1.3" ry="0.95"/><ellipse cx="1134.3" cy="330.7" rx="1.3" ry="0.95"/><ellipse cx="1142.6" cy="332.9" rx="2.2" ry="1.55"/><ellipse cx="1155.1" cy="331.2" rx="1.3" ry="0.95"/><ellipse cx="1166.1" cy="335.3" rx="2.2" ry="1.55"/><ellipse cx="3.2" cy="342.0" rx="2.2" ry="1.55"/><ellipse cx="14.2" cy="343.7" rx="1.3" ry="0.95"/><ellipse cx="25.1" cy="344.2" rx="2.2" ry="1.55"/><ellipse cx="38.7" cy="343.6" rx="1.3" ry="0.95"/><ellipse cx="46.5" cy="341.3" rx="1.3" ry="0.95"/><ellipse cx="65.5" cy="343.1" rx="1.3" ry="0.95"/><ellipse cx="75.4" cy="343.0" rx="2.2" ry="1.55"/><ellipse cx="88.2" cy="341.1" rx="2.2" ry="1.55"/><ellipse cx="101.7" cy="342.3" rx="2.2" ry="1.55"/><ellipse cx="110.8" cy="342.8" rx="1.3" ry="0.95"/><ellipse cx="126.7" cy="345.8" rx="2.2" ry="1.55"/><ellipse cx="135.4" cy="342.7" rx="2.2" ry="1.55"/><ellipse cx="148.2" cy="343.9" rx="2.2" ry="1.55"/><ellipse cx="160.7" cy="341.9" rx="2.2" ry="1.55"/><ellipse cx="172.8" cy="343.5" rx="2.2" ry="1.55"/><ellipse cx="190.2" cy="343.8" rx="2.2" ry="1.55"/><ellipse cx="199.5" cy="341.2" rx="1.3" ry="0.95"/><ellipse cx="214.3" cy="342.8" rx="1.3" ry="0.95"/><ellipse cx="223.4" cy="342.1" rx="2.2" ry="1.55"/><ellipse cx="235.4" cy="344.0" rx="1.3" ry="0.95"/><ellipse cx="251.6" cy="341.5" rx="1.3" ry="0.95"/><ellipse cx="262.3" cy="342.9" rx="2.2" ry="1.55"/><ellipse cx="274.5" cy="342.0" rx="2.2" ry="1.55"/><ellipse cx="288.5" cy="344.6" rx="1.3" ry="0.95"/><ellipse cx="297.9" cy="345.5" rx="1.3" ry="0.95"/><ellipse cx="314.0" cy="345.9" rx="2.2" ry="1.55"/><ellipse cx="326.9" cy="345.5" rx="2.2" ry="1.55"/><ellipse cx="338.2" cy="345.7" rx="2.2" ry="1.55"/><ellipse cx="352.5" cy="345.5" rx="2.2" ry="1.55"/><ellipse cx="360.0" cy="342.1" rx="1.3" ry="0.95"/><ellipse cx="374.5" cy="342.6" rx="2.2" ry="1.55"/><ellipse cx="390.5" cy="342.3" rx="2.2" ry="1.55"/><ellipse cx="403.1" cy="342.6" rx="2.2" ry="1.55"/><ellipse cx="415.8" cy="342.4" rx="2.2" ry="1.55"/><ellipse cx="427.7" cy="342.2" rx="2.2" ry="1.55"/><ellipse cx="440.6" cy="342.1" rx="1.3" ry="0.95"/><ellipse cx="448.8" cy="342.5" rx="2.2" ry="1.55"/><ellipse cx="462.8" cy="343.8" rx="2.2" ry="1.55"/><ellipse cx="475.1" cy="342.5" rx="1.3" ry="0.95"/><ellipse cx="490.5" cy="344.8" rx="1.3" ry="0.95"/><ellipse cx="497.0" cy="342.3" rx="2.2" ry="1.55"/><ellipse cx="510.1" cy="345.8" rx="1.3" ry="0.95"/><ellipse cx="527.9" cy="343.8" rx="2.2" ry="1.55"/><ellipse cx="537.0" cy="341.3" rx="1.3" ry="0.95"/><ellipse cx="548.4" cy="342.4" rx="1.3" ry="0.95"/><ellipse cx="560.4" cy="345.6" rx="2.2" ry="1.55"/><ellipse cx="576.2" cy="341.5" rx="1.3" ry="0.95"/><ellipse cx="586.8" cy="342.7" rx="1.3" ry="0.95"/><ellipse cx="600.7" cy="342.3" rx="2.2" ry="1.55"/><ellipse cx="613.0" cy="341.1" rx="1.3" ry="0.95"/><ellipse cx="623.9" cy="341.8" rx="2.2" ry="1.55"/><ellipse cx="634.8" cy="342.6" rx="2.2" ry="1.55"/><ellipse cx="649.3" cy="342.7" rx="2.2" ry="1.55"/><ellipse cx="662.4" cy="344.9" rx="2.2" ry="1.55"/><ellipse cx="676.9" cy="343.4" rx="2.2" ry="1.55"/><ellipse cx="685.2" cy="345.2" rx="2.2" ry="1.55"/><ellipse cx="699.2" cy="343.6" rx="1.3" ry="0.95"/><ellipse cx="711.6" cy="342.8" rx="2.2" ry="1.55"/><ellipse cx="721.6" cy="343.7" rx="2.2" ry="1.55"/><ellipse cx="737.5" cy="343.3" rx="2.2" ry="1.55"/><ellipse cx="751.5" cy="341.9" rx="1.3" ry="0.95"/><ellipse cx="759.8" cy="345.3" rx="2.2" ry="1.55"/><ellipse cx="777.1" cy="342.3" rx="2.2" ry="1.55"/><ellipse cx="787.8" cy="345.2" rx="1.3" ry="0.95"/><ellipse cx="802.6" cy="345.9" rx="2.2" ry="1.55"/><ellipse cx="811.7" cy="341.5" rx="1.3" ry="0.95"/><ellipse cx="824.7" cy="344.7" rx="1.3" ry="0.95"/><ellipse cx="841.0" cy="344.4" rx="1.3" ry="0.95"/><ellipse cx="850.3" cy="341.4" rx="1.3" ry="0.95"/><ellipse cx="859.6" cy="341.4" rx="1.3" ry="0.95"/><ellipse cx="873.5" cy="344.3" rx="2.2" ry="1.55"/><ellipse cx="885.5" cy="344.6" rx="2.2" ry="1.55"/><ellipse cx="900.1" cy="345.7" rx="2.2" ry="1.55"/><ellipse cx="913.9" cy="344.7" rx="2.2" ry="1.55"/><ellipse cx="926.9" cy="344.5" rx="2.2" ry="1.55"/><ellipse cx="935.3" cy="343.7" rx="1.3" ry="0.95"/><ellipse cx="948.0" cy="343.9" rx="2.2" ry="1.55"/><ellipse cx="964.9" cy="343.2" rx="2.2" ry="1.55"/><ellipse cx="976.2" cy="341.7" rx="1.3" ry="0.95"/><ellipse cx="989.6" cy="345.3" rx="2.2" ry="1.55"/><ellipse cx="998.1" cy="341.8" rx="1.3" ry="0.95"/><ellipse cx="1012.1" cy="342.9" rx="2.2" ry="1.55"/><ellipse cx="1026.4" cy="342.6" rx="2.2" ry="1.55"/><ellipse cx="1039.4" cy="344.9" rx="2.2" ry="1.55"/><ellipse cx="1047.0" cy="345.6" rx="1.3" ry="0.95"/><ellipse cx="1063.2" cy="343.0" rx="1.3" ry="0.95"/><ellipse cx="1074.5" cy="342.1" rx="2.2" ry="1.55"/><ellipse cx="1086.5" cy="344.0" rx="2.2" ry="1.55"/><ellipse cx="1103.1" cy="344.2" rx="2.2" ry="1.55"/><ellipse cx="1113.6" cy="344.0" rx="2.2" ry="1.55"/><ellipse cx="1125.0" cy="343.6" rx="2.2" ry="1.55"/><ellipse cx="1139.8" cy="342.0" rx="1.3" ry="0.95"/><ellipse cx="1148.6" cy="345.2" rx="2.2" ry="1.55"/><ellipse cx="1162.4" cy="343.2" rx="1.3" ry="0.95"/><ellipse cx="1172.9" cy="342.3" rx="2.2" ry="1.55"/><ellipse cx="-5.6" cy="354.4" rx="2.2" ry="1.55"/><ellipse cx="4.2" cy="352.5" rx="1.3" ry="0.95"/><ellipse cx="18.7" cy="354.3" rx="2.2" ry="1.55"/><ellipse cx="32.6" cy="355.6" rx="1.3" ry="0.95"/><ellipse cx="40.5" cy="353.7" rx="2.2" ry="1.55"/><ellipse cx="53.3" cy="355.4" rx="2.2" ry="1.55"/><ellipse cx="67.6" cy="354.6" rx="2.2" ry="1.55"/><ellipse cx="81.5" cy="355.8" rx="2.2" ry="1.55"/><ellipse cx="92.9" cy="351.8" rx="2.2" ry="1.55"/><ellipse cx="105.5" cy="354.2" rx="2.2" ry="1.55"/><ellipse cx="115.5" cy="351.7" rx="2.2" ry="1.55"/><ellipse cx="128.7" cy="355.8" rx="2.2" ry="1.55"/><ellipse cx="142.2" cy="355.1" rx="1.3" ry="0.95"/><ellipse cx="153.4" cy="355.3" rx="2.2" ry="1.55"/><ellipse cx="172.5" cy="352.2" rx="2.2" ry="1.55"/><ellipse cx="179.7" cy="355.8" rx="1.3" ry="0.95"/><ellipse cx="194.6" cy="352.2" rx="2.2" ry="1.55"/><ellipse cx="207.9" cy="351.8" rx="1.3" ry="0.95"/><ellipse cx="221.4" cy="356.2" rx="1.3" ry="0.95"/><ellipse cx="232.3" cy="356.4" rx="2.2" ry="1.55"/><ellipse cx="242.6" cy="352.1" rx="2.2" ry="1.55"/><ellipse cx="258.6" cy="352.0" rx="1.3" ry="0.95"/><ellipse cx="268.3" cy="355.9" rx="1.3" ry="0.95"/><ellipse cx="282.8" cy="355.7" rx="2.2" ry="1.55"/><ellipse cx="292.4" cy="353.3" rx="2.2" ry="1.55"/><ellipse cx="307.7" cy="355.9" rx="1.3" ry="0.95"/><ellipse cx="322.0" cy="355.0" rx="2.2" ry="1.55"/><ellipse cx="331.6" cy="355.2" rx="1.3" ry="0.95"/><ellipse cx="343.1" cy="353.3" rx="2.2" ry="1.55"/><ellipse cx="354.6" cy="355.9" rx="2.2" ry="1.55"/><ellipse cx="370.0" cy="353.9" rx="2.2" ry="1.55"/><ellipse cx="382.0" cy="353.9" rx="1.3" ry="0.95"/><ellipse cx="396.7" cy="354.4" rx="1.3" ry="0.95"/><ellipse cx="409.2" cy="352.3" rx="1.3" ry="0.95"/><ellipse cx="421.3" cy="356.5" rx="1.3" ry="0.95"/><ellipse cx="430.7" cy="352.5" rx="1.3" ry="0.95"/><ellipse cx="442.0" cy="355.3" rx="2.2" ry="1.55"/><ellipse cx="458.8" cy="353.3" rx="2.2" ry="1.55"/><ellipse cx="471.8" cy="354.8" rx="2.2" ry="1.55"/><ellipse cx="481.9" cy="353.7" rx="1.3" ry="0.95"/><ellipse cx="494.1" cy="352.9" rx="1.3" ry="0.95"/><ellipse cx="509.2" cy="355.3" rx="2.2" ry="1.55"/><ellipse cx="516.9" cy="355.2" rx="1.3" ry="0.95"/><ellipse cx="532.6" cy="352.6" rx="1.3" ry="0.95"/><ellipse cx="544.2" cy="353.4" rx="2.2" ry="1.55"/><ellipse cx="556.1" cy="354.7" rx="1.3" ry="0.95"/><ellipse cx="572.4" cy="352.1" rx="2.2" ry="1.55"/><ellipse cx="584.6" cy="354.8" rx="2.2" ry="1.55"/><ellipse cx="596.5" cy="351.7" rx="1.3" ry="0.95"/><ellipse cx="607.4" cy="354.4" rx="2.2" ry="1.55"/><ellipse cx="619.8" cy="352.1" rx="2.2" ry="1.55"/><ellipse cx="629.8" cy="356.2" rx="1.3" ry="0.95"/><ellipse cx="643.8" cy="355.3" rx="2.2" ry="1.55"/><ellipse cx="656.7" cy="352.3" rx="1.3" ry="0.95"/><ellipse cx="670.8" cy="355.3" rx="2.2" ry="1.55"/><ellipse cx="683.7" cy="351.6" rx="2.2" ry="1.55"/><ellipse cx="693.9" cy="351.8" rx="2.2" ry="1.55"/><ellipse cx="709.2" cy="354.6" rx="2.2" ry="1.55"/><ellipse cx="721.2" cy="353.3" rx="1.3" ry="0.95"/><ellipse cx="730.8" cy="351.9" rx="1.3" ry="0.95"/><ellipse cx="741.0" cy="352.8" rx="1.3" ry="0.95"/><ellipse cx="753.8" cy="354.2" rx="1.3" ry="0.95"/><ellipse cx="769.6" cy="353.2" rx="1.3" ry="0.95"/><ellipse cx="783.8" cy="354.4" rx="1.3" ry="0.95"/><ellipse cx="792.8" cy="353.5" rx="1.3" ry="0.95"/><ellipse cx="809.8" cy="351.5" rx="2.2" ry="1.55"/><ellipse cx="817.1" cy="355.5" rx="2.2" ry="1.55"/><ellipse cx="829.2" cy="355.3" rx="2.2" ry="1.55"/><ellipse cx="847.3" cy="353.8" rx="1.3" ry="0.95"/><ellipse cx="858.7" cy="352.5" rx="1.3" ry="0.95"/><ellipse cx="868.4" cy="352.6" rx="2.2" ry="1.55"/><ellipse cx="882.9" cy="354.3" rx="2.2" ry="1.55"/><ellipse cx="896.3" cy="352.5" rx="2.2" ry="1.55"/><ellipse cx="903.6" cy="353.3" rx="1.3" ry="0.95"/><ellipse cx="919.0" cy="352.3" rx="2.2" ry="1.55"/><ellipse cx="932.5" cy="352.9" rx="1.3" ry="0.95"/><ellipse cx="940.9" cy="355.8" rx="1.3" ry="0.95"/><ellipse cx="958.8" cy="353.3" rx="2.2" ry="1.55"/><ellipse cx="966.7" cy="354.6" rx="2.2" ry="1.55"/><ellipse cx="978.8" cy="355.4" rx="1.3" ry="0.95"/><ellipse cx="996.5" cy="355.7" rx="2.2" ry="1.55"/><ellipse cx="1009.1" cy="355.0" rx="2.2" ry="1.55"/><ellipse cx="1018.5" cy="351.6" rx="2.2" ry="1.55"/><ellipse cx="1029.7" cy="353.8" rx="2.2" ry="1.55"/><ellipse cx="1047.3" cy="354.4" rx="1.3" ry="0.95"/><ellipse cx="1059.2" cy="352.6" rx="1.3" ry="0.95"/><ellipse cx="1072.2" cy="352.8" rx="2.2" ry="1.55"/><ellipse cx="1083.6" cy="355.9" rx="1.3" ry="0.95"/><ellipse cx="1093.4" cy="354.5" rx="2.2" ry="1.55"/><ellipse cx="1104.6" cy="353.6" rx="1.3" ry="0.95"/><ellipse cx="1116.1" cy="356.1" rx="2.2" ry="1.55"/><ellipse cx="1134.8" cy="352.7" rx="1.3" ry="0.95"/><ellipse cx="1146.2" cy="356.3" rx="2.2" ry="1.55"/><ellipse cx="1157.9" cy="353.0" rx="1.3" ry="0.95"/><ellipse cx="1166.3" cy="355.9" rx="2.2" ry="1.55"/></g>
<g fill="none" stroke="#cfcfcf" stroke-width="1.3"><path d="M0,424.9 Q85,440 154,448.7 Q230,456 300,459.5 Q360,462 402.6,464.6"/><path d="M0,490.8 Q150,489 300,492.8 Q430,499 505,508 Q560,520 600,536.4"/><path d="M85.9,404.4 L86.4,527.4"/><path d="M125.6,382.6 L174.4,505.6"/><path d="M225.6,382.6 Q236,440 234.6,456.9 Q230,480 205,500 Q192,515 192.3,536.4"/><path d="M202.6,410.8 L214.9,398.5"/><path d="M247.4,418.5 L300,418.5"/><path d="M262.8,415.9 L271.8,429.2"/><path d="M266.7,396.7 Q285,412 300,433.8 Q310,446 318,455"/><path d="M250,517.7 L300,514.6 Q450,508 600,505.6"/><path d="M275.6,387.7 L287,390"/><path d="M346,382.6 L300,444"/><path d="M361.5,399.2 Q330,412 300,418.5"/><path d="M356.4,430 Q320,440 300,451.8"/><path d="M397.4,416 Q378,450 379.5,482.6 Q381,505 402.6,536.4"/><path d="M407.7,428.7 Q441,421 479.5,410.8"/><path d="M474.4,408.2 L500,426.2"/><path d="M366.7,464.6 Q400,460 410,452 Q425,440 433.3,431.3"/><path d="M300,480 L333.3,536.4"/><path d="M392.3,391.5 Q428,387 505,398 Q560,396 600,395.4"/><path d="M425.6,382.6 Q420,460 418,536.4"/><path d="M510,454.4 L510,536.4"/><path d="M538.5,408.2 L600,518.5"/><path d="M556.4,431.3 Q566,440 566.7,451.8"/><path d="M577,439 Q587,455 587,464.6 Q592,472 600,477.4"/><path d="M569,423.6 L600,418.5"/><path d="M530.8,423.6 Q566,429 600,427.4"/><path d="M479.5,449.2 Q540,452 600,454.4"/><path d="M300,533.8 L377,535"/><path d="M614,382.6 L666.7,482.6"/><path d="M600,399 Q620,405 633.3,413.3 Q642,420 646,431.3"/><path d="M623,432.6 Q660,418 702.6,408.2 Q740,400 779.5,398 Q830,397 856.4,399.2 L900,405.6"/><path d="M687.2,382.6 Q720,398 753.8,408.2 Q800,420 830.8,431.3 Q870,444 900,454.4"/><path d="M812.8,392.8 L715.4,487.7"/><path d="M600,453 Q650,456 702.6,459.5 Q750,462 784.6,463.3 L818,480"/><path d="M600,507 Q660,508 702.6,508.2 Q760,511 805,516 Q860,525 900,533.8"/><path d="M651.3,487.7 Q680,495 702.6,500.5 Q800,492 900,482.6"/><path d="M620.5,536.4 Q640,525 651.3,518.5 Q666,508 666.7,498 Q662,478 646,462"/><path d="M637.2,445.4 Q660,449 677,449 L697.4,444"/><path d="M715.4,490 L753.8,536.4"/><path d="M869.2,395.4 Q856,420 856.4,431.3 Q852,480 853.8,536.4"/><path d="M830.8,467.2 L900,482.6"/><path d="M890,408.7 L929.5,421.9"/><path d="M964.2,404 L1033.6,435"/><path d="M1033.6,384.8 Q1045,411 1043,420 Q1035,450 1028.8,451.8 Q1000,480 976,504.4"/><path d="M925.9,448.2 L1043,439"/><path d="M890,454.2 L994,478.1"/><path d="M890,484 L915,483"/><path d="M964.2,463.8 Q1010,464 1057.5,466.1 Q1120,482 1170,504.4"/><path d="M1086.2,389.6 Q1080,410 1081.4,427.9 Q1083,460 1083.8,475.7 L1074.3,506.8"/><path d="M1117.3,504.4 L1170,459"/><path d="M1119.7,456.6 L1153.2,470.9"/><path d="M890,487.7 L985.7,505.6"/></g>
<g fill="none" stroke="#ffffff" stroke-opacity="0.42" stroke-width="1"><path d="M602.4,592.2L689.2,603.4"/><path d="M590,610.8L761,628.2"/><path d="M590,639.3L727.6,654.2"/><path d="M673,574.9L763.5,584.8"/><path d="M645.8,584.8L671.8,588.5"/><path d="M676.8,674L805.7,696.3"/><path d="M723.9,674L823,688.9"/><path d="M741.2,636.8L831.7,650.5"/><path d="M740,652.2L880,669"/><path d="M766,622L857.7,635.6"/><path d="M771,572.4L837.9,582.3"/><path d="M830.5,724.8L880,731"/><path d="M633.4,640.6L658.2,603.4"/><path d="M638.3,677.7L691.6,572.4"/><path d="M679.2,666.6L686.7,641.8"/><path d="M683,681.5L736.3,574.9"/><path d="M696.6,679L783.4,631.9"/><path d="M723.9,692.6L810.6,619.5"/><path d="M748.6,681.5L805.7,644.3"/><path d="M783.4,681.5L880,602.1"/><path d="M805.7,684L880,639.3"/><path d="M717.7,634.4L736.3,619.5"/><path d="M818,648L828,625.7"/><path d="M746,619.5L751,599.7"/><path d="M815.6,698.8L830.5,684"/><path d="M870,615L921,620"/><path d="M947,664L1049.5,672.8"/><path d="M1044,661.3L1111,669"/><path d="M908.5,672.8L1121,699.7"/><path d="M921,711.3L1049.5,724"/><path d="M1034,680.5L1116,680.5"/><path d="M1016,713.8L1126,734.4"/><path d="M870,620L881.5,599.7"/><path d="M1057,710L1077.7,670"/><path d="M993,722.8L1047,683"/><path d="M1006,737L1100.8,692"/><path d="M967.4,703.6L1023.8,658.7"/><path d="M918.7,724L964.9,661.3"/><path d="M903,726.7L931.5,692"/><path d="M1141.8,724L1170,703.6"/><path d="M1075,726.7L1098.2,703.6"/></g>
<polygon fill="url(#tower)" points="18.1,209.9 22.5,209.9 23.4,286 17.2,286"/><path fill="#ffffff" d="M20.3,209.9 Q4.2,200.1 9.7,177.5 Q19.2,192.3 20.3,209.9Z"/><path fill="#ffffff" d="M20.3,209.9 Q36.1,200.1 53.6,215.0 Q36.3,216.8 20.3,209.9Z"/><path fill="#ffffff" d="M20.3,209.9 Q18.8,228.0 -3.0,233.0 Q5.6,218.4 20.3,209.9Z"/><circle cx="20.3" cy="209.9" r="4.6" fill="#f2f2f2" stroke="#8cc4ea" stroke-width="0.9"/>
<polygon fill="url(#tower)" points="79.5,225.5 82.9,225.5 83.5,286 78.9,286"/><path fill="#ffffff" d="M81.2,225.5 Q77.2,216.8 85.9,208.8 Q85.7,217.8 81.2,225.5Z"/><path fill="#ffffff" d="M81.2,225.5 Q74.2,234.7 60.8,229.9 Q70.4,225.0 81.2,225.5Z"/><path fill="#ffffff" d="M81.2,225.5 Q91.7,225.1 96.1,237.4 Q87.1,233.4 81.2,225.5Z"/><circle cx="81.2" cy="225.5" r="2.9" fill="#f2f2f2" stroke="#8cc4ea" stroke-width="0.9"/>
<polygon fill="#fff" points="22.6,256.8 44.7,244.8 67.7,256.8 67.7,286 22.6,286"/><rect x="52.6" y="242.8" width="6.2" height="8.2" fill="#fff"/><polyline fill="none" stroke="#d0202a" stroke-width="2.4" points="20.0,256.8 44.7,243.8 69.4,256.8"/><g fill="url(#sky)"><rect x="26.9" y="258.0" width="5.8" height="5.4"/><rect x="33.9" y="258.0" width="5.9" height="5.4"/><rect x="26.9" y="264.6" width="5.8" height="5.4"/><rect x="33.9" y="264.6" width="5.9" height="5.4"/></g><rect x="50.4" y="266.3" width="8.4" height="13.5" fill="url(#sky)"/>
<polygon fill="#fff" points="77.7,256.8 99.0,244.8 121.0,256.8 121.0,286 77.7,286"/><rect x="106.5" y="242.8" width="6.2" height="8.2" fill="#fff"/><polyline fill="none" stroke="#d0202a" stroke-width="2.4" points="75.6,256.8 99.0,243.8 123.0,256.8"/><g fill="url(#sky)"><rect x="82.0" y="258.0" width="5.4" height="5.4"/><rect x="88.6" y="258.0" width="5.4" height="5.4"/><rect x="82.0" y="264.6" width="5.4" height="5.4"/><rect x="88.6" y="264.6" width="5.4" height="5.4"/></g><rect x="104.6" y="266.3" width="8.1" height="13.5" fill="url(#sky)"/>
<g fill="#fff"><rect x="132.8" y="261.8" width="86.3" height="24.2"/><rect x="143.9" y="212.3" width="64.1" height="73.7"/><rect x="150.5" y="203.8" width="19.7" height="9.2"/><rect x="181.7" y="203.8" width="20.1" height="9.2"/></g>
<g fill="#4d4d4d"><rect x="150.5" y="203.2" width="19.7" height="1.8"/><rect x="181.7" y="203.2" width="20.1" height="1.8"/></g>
<g fill="url(#sky)"><rect x="157.0" y="209.3" width="6.8" height="5.5"/><rect x="188.3" y="209.3" width="6.7" height="5.5"/></g>
<g fill="url(#sky)"><rect x="151.0" y="221.0" width="7.2" height="6.4"/><rect x="151.0" y="232.0" width="7.2" height="6.3"/><rect x="151.0" y="243.0" width="7.2" height="6.2"/><rect x="151.0" y="253.9" width="7.2" height="6.4"/><rect x="151.0" y="265.0" width="7.2" height="6.2"/><rect x="162.0" y="221.0" width="7.3" height="6.4"/><rect x="162.0" y="232.0" width="7.3" height="6.3"/><rect x="162.0" y="243.0" width="7.3" height="6.2"/><rect x="162.0" y="253.9" width="7.3" height="6.4"/><rect x="162.0" y="265.0" width="7.3" height="6.2"/><rect x="182.6" y="221.0" width="7.4" height="6.4"/><rect x="182.6" y="232.0" width="7.4" height="6.3"/><rect x="182.6" y="243.0" width="7.4" height="6.2"/><rect x="182.6" y="253.9" width="7.4" height="6.4"/><rect x="182.6" y="265.0" width="7.4" height="6.2"/><rect x="193.5" y="221.0" width="7.4" height="6.4"/><rect x="193.5" y="232.0" width="7.4" height="6.3"/><rect x="193.5" y="243.0" width="7.4" height="6.2"/><rect x="193.5" y="253.9" width="7.4" height="6.4"/><rect x="193.5" y="265.0" width="7.4" height="6.2"/></g>
<g fill="url(#sky)"><rect x="137.0" y="273.0" width="6.0" height="10.8"/><rect x="209.0" y="273.0" width="6.0" height="10.8"/></g>
<g fill="#fff"><rect x="233.2" y="189.7" width="70.7" height="96.3"/><rect x="238.0" y="181.8" width="32.0" height="8.2"/><rect x="245.6" y="177.5" width="16.9" height="5.0"/></g>
<g fill="#4d4d4d"><rect x="232.5" y="189.0" width="5.5" height="2.0"/><rect x="270.0" y="189.0" width="34.5" height="2.0"/><rect x="245.6" y="177.0" width="16.9" height="1.8"/></g>
<g fill="url(#sky)"><rect x="243.5" y="184.7" width="5.0" height="6.0"/><rect x="249.0" y="184.7" width="5.0" height="6.0"/><rect x="254.5" y="184.7" width="5.0" height="6.0"/><rect x="260.0" y="184.7" width="5.0" height="6.0"/></g>
<g fill="url(#sky)"><rect x="243.2" y="194.8" width="21.0" height="7.2"/><rect x="243.2" y="206.0" width="21.0" height="7.6"/><rect x="243.2" y="217.6" width="21.0" height="7.3"/><rect x="243.2" y="228.9" width="21.0" height="7.3"/><rect x="243.2" y="240.0" width="21.0" height="7.7"/><rect x="243.2" y="251.6" width="21.0" height="7.4"/><rect x="273.3" y="194.8" width="20.8" height="7.2"/><rect x="273.3" y="206.0" width="20.8" height="7.6"/><rect x="273.3" y="217.6" width="20.8" height="7.3"/><rect x="273.3" y="228.9" width="20.8" height="7.3"/><rect x="273.3" y="240.0" width="20.8" height="7.7"/><rect x="273.3" y="251.6" width="20.8" height="7.4"/></g>
<g fill="url(#sky)"><rect x="254.3" y="268.0" width="26.7" height="8.0"/></g>
<g fill="#fff"><rect x="343.8" y="214.9" width="28.4" height="71.1"/><rect x="341.6" y="208.9" width="32.4" height="6.0"/><rect x="343.5" y="205.6" width="4.6" height="4" rx="1.5"/><rect x="350.7" y="205.6" width="4.6" height="4" rx="1.5"/><rect x="357.9" y="205.6" width="4.6" height="4" rx="1.5"/><rect x="365.1" y="205.6" width="4.6" height="4" rx="1.5"/><rect x="372.3" y="205.6" width="4.6" height="4" rx="1.5"/><rect x="547.8" y="214.9" width="28.9" height="71.1"/><rect x="546.0" y="208.9" width="32.9" height="6.0"/><rect x="548.0" y="205.6" width="4.6" height="4" rx="1.5"/><rect x="555.2" y="205.6" width="4.6" height="4" rx="1.5"/><rect x="562.4" y="205.6" width="4.6" height="4" rx="1.5"/><rect x="569.6" y="205.6" width="4.6" height="4" rx="1.5"/><rect x="576.8" y="205.6" width="4.6" height="4" rx="1.5"/><rect x="343.8" y="233.8" width="232.9" height="52.2"/><rect x="425.6" y="218.4" width="70.6" height="67.6"/><rect x="424.5" y="220.0" width="2.5" height="4.0"/><rect x="494.8" y="220.0" width="2.5" height="4.0"/><rect x="429.3" y="210.0" width="3.4" height="9.0"/><rect x="489.6" y="210.0" width="3.3" height="9.0"/><circle cx="431" cy="208.5" r="1.8"/><circle cx="491.2" cy="208.5" r="1.8"/></g>
<g fill="url(#sky)"><rect x="348.4" y="220" width="3.4" height="7.3" rx="1.2"/><rect x="356.2" y="220" width="3.4" height="7.3" rx="1.2"/><rect x="364" y="220" width="3.4" height="7.3" rx="1.2"/><rect x="549.1" y="220" width="3.4" height="7.3" rx="1.2"/><rect x="556.9" y="220" width="3.4" height="7.3" rx="1.2"/><rect x="564.7" y="220" width="3.4" height="7.3" rx="1.2"/><path d="M352.2,258.4 L352.2,251.9 A5.9,5.9 0 0 1 364.0,251.9 L364.0,258.4Z"/><path d="M556.6,258.4 L556.6,251.9 A5.9,5.9 0 0 1 568.4,251.9 L568.4,258.4Z"/><path d="M354.4,282.2 L354.4,275.5 A3.3,3.3 0 0 1 361.0,275.5 L361.0,282.2Z"/><path d="M559.5,282.2 L559.5,275.4 A3.2,3.2 0 0 1 566.0,275.4 L566.0,282.2Z"/><path d="M376.1,250.0 L376.1,244.6 A1.7,1.7 0 0 1 379.5,244.6 L379.5,250.0Z"/><path d="M386.5,250.0 L386.5,244.6 A1.7,1.7 0 0 1 389.9,244.6 L389.9,250.0Z"/><path d="M397.2,250.0 L397.2,244.6 A1.7,1.7 0 0 1 400.6,244.6 L400.6,250.0Z"/><path d="M407.6,250.0 L407.6,244.6 A1.7,1.7 0 0 1 411.0,244.6 L411.0,250.0Z"/><path d="M417.9,250.0 L417.9,244.6 A1.7,1.7 0 0 1 421.3,244.6 L421.3,250.0Z"/><path d="M496.7,250.0 L496.7,244.6 A1.7,1.7 0 0 1 500.1,244.6 L500.1,250.0Z"/><path d="M507.4,250.0 L507.4,244.6 A1.7,1.7 0 0 1 510.8,244.6 L510.8,250.0Z"/><path d="M517.9,250.0 L517.9,244.6 A1.7,1.7 0 0 1 521.3,244.6 L521.3,250.0Z"/><path d="M528.3,250.0 L528.3,244.6 A1.7,1.7 0 0 1 531.7,244.6 L531.7,250.0Z"/><path d="M539.0,250.0 L539.0,244.6 A1.7,1.7 0 0 1 542.4,244.6 L542.4,250.0Z"/><path d="M376.3,271.8 L376.3,260.8 A3.0,3.0 0 0 1 382.3,260.8 L382.3,271.8Z"/><path d="M386.6,271.8 L386.6,260.8 A3.0,3.0 0 0 1 392.6,260.8 L392.6,271.8Z"/><path d="M397.2,271.8 L397.2,260.8 A3.0,3.0 0 0 1 403.2,260.8 L403.2,271.8Z"/><path d="M407.9,271.8 L407.9,260.8 A3.0,3.0 0 0 1 413.9,260.8 L413.9,271.8Z"/><path d="M418.6,271.8 L418.6,260.8 A3.0,3.0 0 0 1 424.6,260.8 L424.6,271.8Z"/><path d="M494.8,271.8 L494.8,260.8 A3.0,3.0 0 0 1 500.8,260.8 L500.8,271.8Z"/><path d="M505.5,271.8 L505.5,260.8 A3.0,3.0 0 0 1 511.5,260.8 L511.5,271.8Z"/><path d="M516.0,271.8 L516.0,260.8 A3.0,3.0 0 0 1 522.0,260.8 L522.0,271.8Z"/><path d="M526.5,271.8 L526.5,260.8 A3.0,3.0 0 0 1 532.5,260.8 L532.5,271.8Z"/><path d="M537.2,271.8 L537.2,260.8 A3.0,3.0 0 0 1 543.2,260.8 L543.2,271.8Z"/><rect x="432.9" y="245.0" width="3.0" height="23.0"/><rect x="443.2" y="245.0" width="3.0" height="23.0"/><rect x="453.4" y="245.0" width="3.0" height="23.0"/><rect x="463.6" y="245.0" width="3.0" height="23.0"/><rect x="473.8" y="245.0" width="3.0" height="23.0"/><rect x="484.1" y="245.0" width="3.0" height="23.0"/><rect x="431.2" y="268.0" width="8.8" height="12.7"/><rect x="441.0" y="268.0" width="8.8" height="12.7"/><rect x="450.8" y="268.0" width="8.8" height="12.7"/><rect x="460.6" y="268.0" width="8.8" height="12.7"/><rect x="470.5" y="268.0" width="8.8" height="12.7"/><rect x="480.3" y="268.0" width="8.8" height="12.7"/></g>
<polygon fill="none" stroke="url(#sky)" stroke-width="2.6" points="431.5,237.4 460,223.5 489,237.4"/>
<polygon fill="url(#sky)" points="428,239.5 492,239.5 489,236.5 431,236.5"/>
<g fill="#fff"><rect x="660.1" y="211.3" width="28.4" height="74.7"/><rect x="687.0" y="189.7" width="52.7" height="96.3"/><rect x="690.6" y="185.7" width="23.6" height="4.3"/><rect x="696.5" y="182.8" width="11.8" height="3.2"/><rect x="754.5" y="209.9" width="17.3" height="76.1"/><polygon points="738.5,241.6 756,247.6 756,286 738.5,286"/><polygon points="771,238.5 787.5,233 787.5,286 771,286"/><rect x="786.3" y="188.1" width="39.9" height="97.9"/><rect x="664.0" y="278.0" width="165.0" height="8.0"/></g>
<polygon fill="#fff" points="620.2,255.8 641.5,244.7 664.0,255.8 664.0,286 620.2,286"/><rect x="647.4" y="243.1" width="5.8" height="7.9" fill="#fff"/><polyline fill="none" stroke="#d0202a" stroke-width="2.4" points="618.3,255.8 641.5,243.7 665.6,256.2"/><g fill="url(#sky)"><rect x="643.8" y="258.9" width="5.1" height="4.9"/><rect x="650.1" y="258.9" width="5.1" height="4.9"/><rect x="643.8" y="265.0" width="5.1" height="4.9"/><rect x="650.1" y="265.0" width="5.1" height="4.9"/></g><rect x="626.7" y="266.3" width="7.5" height="12.8" fill="url(#sky)"/>
<polyline fill="none" stroke="#d0202a" stroke-width="2.4" points="740.1,242.1 755.9,247.6"/>
<polyline fill="none" stroke="#d0202a" stroke-width="2.4" points="768.8,238.8 786.3,232.9"/>
<polygon fill="#d0202a" points="763,194.6 770.8,210 755.2,210"/>
<circle cx="763" cy="223.7" r="4.8" fill="url(#sky)"/>
<rect x="786.3" y="187.6" width="39.9" height="2.4" fill="#606060"/>
<polygon fill="url(#solar)" stroke="#eaf4fd" stroke-width="0.7" points="666.1,201.5 673.9,201.5 671.2,209.3 663.5,209.3"/><line x1="667.4" y1="202.3" x2="664.8" y2="208.5" stroke="#d8e8fa" stroke-opacity="0.8" stroke-width="0.6"/><line x1="670.0" y1="202.3" x2="667.4" y2="208.5" stroke="#d8e8fa" stroke-opacity="0.8" stroke-width="0.6"/><line x1="672.6" y1="202.3" x2="670.0" y2="208.5" stroke="#d8e8fa" stroke-opacity="0.8" stroke-width="0.6"/><polygon fill="url(#solar)" stroke="#eaf4fd" stroke-width="0.7" points="677.5,201.5 685.2,201.5 682.6,209.3 674.9,209.3"/><line x1="678.7" y1="202.3" x2="676.1" y2="208.5" stroke="#d8e8fa" stroke-opacity="0.8" stroke-width="0.6"/><line x1="681.3" y1="202.3" x2="678.7" y2="208.5" stroke="#d8e8fa" stroke-opacity="0.8" stroke-width="0.6"/><line x1="683.9" y1="202.3" x2="681.3" y2="208.5" stroke="#d8e8fa" stroke-opacity="0.8" stroke-width="0.6"/>
<polygon fill="url(#solar)" stroke="#eaf4fd" stroke-width="0.7" points="720.1,179.4 727.9,179.4 725.2,188.0 717.5,188.0"/><line x1="721.4" y1="180.2" x2="718.8" y2="187.2" stroke="#d8e8fa" stroke-opacity="0.8" stroke-width="0.6"/><line x1="724.0" y1="180.2" x2="721.4" y2="187.2" stroke="#d8e8fa" stroke-opacity="0.8" stroke-width="0.6"/><line x1="726.6" y1="180.2" x2="724.0" y2="187.2" stroke="#d8e8fa" stroke-opacity="0.8" stroke-width="0.6"/><polygon fill="url(#solar)" stroke="#eaf4fd" stroke-width="0.7" points="731.5,179.4 739.2,179.4 736.6,188.0 728.9,188.0"/><line x1="732.7" y1="180.2" x2="730.1" y2="187.2" stroke="#d8e8fa" stroke-opacity="0.8" stroke-width="0.6"/><line x1="735.3" y1="180.2" x2="732.7" y2="187.2" stroke="#d8e8fa" stroke-opacity="0.8" stroke-width="0.6"/><line x1="737.9" y1="180.2" x2="735.3" y2="187.2" stroke="#d8e8fa" stroke-opacity="0.8" stroke-width="0.6"/>
<g fill="url(#sky)"><rect x="665.6" y="217.2" width="7.3" height="6.8"/><rect x="665.6" y="228.6" width="7.3" height="6.7"/><rect x="665.6" y="240.0" width="7.3" height="6.7"/><rect x="665.6" y="251.4" width="7.3" height="6.6"/><rect x="665.6" y="262.8" width="7.3" height="6.7"/><rect x="676.8" y="217.2" width="7.5" height="6.8"/><rect x="676.8" y="228.6" width="7.5" height="6.7"/><rect x="676.8" y="240.0" width="7.5" height="6.7"/><rect x="676.8" y="251.4" width="7.5" height="6.6"/><rect x="676.8" y="262.8" width="7.5" height="6.7"/></g>
<g fill="url(#sky)"><rect x="694.9" y="196.0" width="15.4" height="7.0"/><rect x="694.9" y="207.4" width="15.4" height="6.8"/><rect x="694.9" y="218.8" width="15.4" height="6.8"/><rect x="694.9" y="230.2" width="15.4" height="6.8"/><rect x="694.9" y="241.6" width="15.4" height="6.8"/><rect x="694.9" y="252.8" width="15.4" height="6.8"/><rect x="717.1" y="196.0" width="15.8" height="7.0"/><rect x="717.1" y="207.4" width="15.8" height="6.8"/><rect x="717.1" y="218.8" width="15.8" height="6.8"/><rect x="717.1" y="230.2" width="15.8" height="6.8"/><rect x="717.1" y="241.6" width="15.8" height="6.8"/><rect x="717.1" y="252.8" width="15.8" height="6.8"/></g>
<g fill="url(#sky)"><rect x="794.8" y="198.0" width="9.4" height="8.4"/><rect x="794.8" y="212.9" width="9.4" height="8.2"/><rect x="794.8" y="227.4" width="9.4" height="8.5"/><rect x="794.8" y="241.8" width="9.4" height="8.4"/><rect x="794.8" y="256.5" width="9.4" height="8.5"/><rect x="809.5" y="198.0" width="9.3" height="8.4"/><rect x="809.5" y="212.9" width="9.3" height="8.2"/><rect x="809.5" y="227.4" width="9.3" height="8.5"/><rect x="809.5" y="241.8" width="9.3" height="8.4"/><rect x="809.5" y="256.5" width="9.3" height="8.5"/></g>
<g fill="url(#sky)"><rect x="777.0" y="246.3" width="6.0" height="12.6"/></g>
<g fill="#fff"><rect x="949.0" y="211.0" width="29.5" height="75.0"/><rect x="977.2" y="189.7" width="52.0" height="96.3"/><rect x="980.7" y="186.4" width="23.8" height="3.6"/><rect x="986.2" y="183.1" width="12.8" height="3.9"/><polygon points="1029,238.4 1040.5,244 1040.5,286 1029,286"/><rect x="1040.1" y="202.8" width="84.8" height="83.2"/><rect x="1061.0" y="194.6" width="43.4" height="8.4"/><rect x="1050.3" y="197.4" width="2.7" height="5.6"/><rect x="1112.6" y="197.4" width="2.8" height="5.6"/><circle cx="1051.6" cy="197.6" r="1.4"/><circle cx="1114" cy="197.6" r="1.4"/></g>
<g fill="none" stroke="#fff" stroke-width="2.6" stroke-linejoin="round" stroke-linecap="round"><polyline points="907.7,287 909.9,254.4 912,233.7 914.4,214 917.8,201.5 921.2,214 923.6,233.7 925.7,254.4 928,287"/><polyline points="890.3,226 945.2,226"/><polyline points="894.2,233.7 941.9,233.7"/><polyline points="890.3,226 913,217.5"/><polyline points="945.2,226 922.6,217.5"/><polyline points="890.3,226 897,233.7 903,226 909,233.7 912,226"/><polyline points="945.2,226 938.5,233.7 932.5,226 926.5,233.7 923.6,226"/><polyline points="902,221.5 903,226"/><polyline points="933.5,221.5 932.5,226"/><polyline points="914.4,214 921.2,214"/><polyline points="914.4,214 923.6,233.7"/><polyline points="921.2,214 912,233.7"/><polyline points="912,233.7 925.7,254.4"/><polyline points="923.6,233.7 909.9,254.4"/><polyline points="909.9,254.4 925.7,254.4"/><polyline points="909.9,254.4 928,287"/><polyline points="925.7,254.4 907.7,287"/></g>
<polygon fill="#fff" points="867.0,257.0 886.9,244.3 911.5,257.0 911.5,286 867.0,286"/><rect x="874.6" y="242.5" width="5.4" height="8.5" fill="#fff"/><polyline fill="none" stroke="#d0202a" stroke-width="2.4" points="862.3,257.0 886.9,243.3 912.9,257.0"/><g fill="url(#sky)"><rect x="873.2" y="258.0" width="4.9" height="5.4"/><rect x="879.3" y="258.0" width="4.9" height="5.4"/><rect x="873.2" y="264.6" width="4.9" height="5.4"/><rect x="879.3" y="264.6" width="4.9" height="5.4"/></g><rect x="893.8" y="265.7" width="7.6" height="13.7" fill="url(#sky)"/>
<polygon fill="#fff" points="1123.5,252.9 1145.4,240.7 1170.0,252.9 1170.0,286 1123.5,286"/><rect x="1133.0" y="239.2" width="5.6" height="7.8" fill="#fff"/><polyline fill="none" stroke="#d0202a" stroke-width="2.4" points="1120.2,252.9 1145.4,239.7 1172.0,253.5"/><g fill="url(#sky)"><rect x="1131.2" y="256.0" width="5.2" height="5.4"/><rect x="1137.5" y="256.0" width="5.2" height="5.4"/><rect x="1131.2" y="262.6" width="5.2" height="5.4"/><rect x="1137.5" y="262.6" width="5.2" height="5.4"/></g><rect x="1153.0" y="264.4" width="8.8" height="14.5" fill="url(#sky)"/>
<polygon fill="url(#solar)" stroke="#eaf4fd" stroke-width="0.7" points="956.5,200.0 964.1,200.0 961.5,208.3 953.9,208.3"/><line x1="957.7" y1="200.8" x2="955.1" y2="207.5" stroke="#d8e8fa" stroke-opacity="0.8" stroke-width="0.6"/><line x1="960.3" y1="200.8" x2="957.7" y2="207.5" stroke="#d8e8fa" stroke-opacity="0.8" stroke-width="0.6"/><line x1="962.8" y1="200.8" x2="960.2" y2="207.5" stroke="#d8e8fa" stroke-opacity="0.8" stroke-width="0.6"/><polygon fill="url(#solar)" stroke="#eaf4fd" stroke-width="0.7" points="967.7,200.0 975.3,200.0 972.7,208.3 965.1,208.3"/><line x1="968.9" y1="200.8" x2="966.3" y2="207.5" stroke="#d8e8fa" stroke-opacity="0.8" stroke-width="0.6"/><line x1="971.5" y1="200.8" x2="968.9" y2="207.5" stroke="#d8e8fa" stroke-opacity="0.8" stroke-width="0.6"/><line x1="974.0" y1="200.8" x2="971.5" y2="207.5" stroke="#d8e8fa" stroke-opacity="0.8" stroke-width="0.6"/>
<polygon fill="url(#solar)" stroke="#eaf4fd" stroke-width="0.7" points="1009.6,178.2 1017.2,178.2 1014.6,186.4 1007.0,186.4"/><line x1="1010.9" y1="179.0" x2="1008.3" y2="185.6" stroke="#d8e8fa" stroke-opacity="0.8" stroke-width="0.6"/><line x1="1013.4" y1="179.0" x2="1010.8" y2="185.6" stroke="#d8e8fa" stroke-opacity="0.8" stroke-width="0.6"/><line x1="1016.0" y1="179.0" x2="1013.4" y2="185.6" stroke="#d8e8fa" stroke-opacity="0.8" stroke-width="0.6"/><polygon fill="url(#solar)" stroke="#eaf4fd" stroke-width="0.7" points="1020.9,178.2 1028.5,178.2 1025.9,186.4 1018.2,186.4"/><line x1="1022.1" y1="179.0" x2="1019.5" y2="185.6" stroke="#d8e8fa" stroke-opacity="0.8" stroke-width="0.6"/><line x1="1024.7" y1="179.0" x2="1022.1" y2="185.6" stroke="#d8e8fa" stroke-opacity="0.8" stroke-width="0.6"/><line x1="1027.2" y1="179.0" x2="1024.6" y2="185.6" stroke="#d8e8fa" stroke-opacity="0.8" stroke-width="0.6"/>
<polygon fill="url(#solar)" stroke="#eaf4fd" stroke-width="0.7" points="1069.1,184.2 1077.2,184.2 1074.6,191.9 1066.5,191.9"/><line x1="1070.5" y1="185.0" x2="1067.9" y2="191.1" stroke="#d8e8fa" stroke-opacity="0.8" stroke-width="0.6"/><line x1="1073.1" y1="185.0" x2="1070.5" y2="191.1" stroke="#d8e8fa" stroke-opacity="0.8" stroke-width="0.6"/><line x1="1075.8" y1="185.0" x2="1073.2" y2="191.1" stroke="#d8e8fa" stroke-opacity="0.8" stroke-width="0.6"/><polygon fill="url(#solar)" stroke="#eaf4fd" stroke-width="0.7" points="1080.8,184.2 1088.8,184.2 1086.2,191.9 1078.2,191.9"/><line x1="1082.1" y1="185.0" x2="1079.5" y2="191.1" stroke="#d8e8fa" stroke-opacity="0.8" stroke-width="0.6"/><line x1="1084.8" y1="185.0" x2="1082.2" y2="191.1" stroke="#d8e8fa" stroke-opacity="0.8" stroke-width="0.6"/><line x1="1087.5" y1="185.0" x2="1084.9" y2="191.1" stroke="#d8e8fa" stroke-opacity="0.8" stroke-width="0.6"/><polygon fill="url(#solar)" stroke="#eaf4fd" stroke-width="0.7" points="1092.4,184.2 1100.5,184.2 1097.9,191.9 1089.8,191.9"/><line x1="1093.8" y1="185.0" x2="1091.2" y2="191.1" stroke="#d8e8fa" stroke-opacity="0.8" stroke-width="0.6"/><line x1="1096.5" y1="185.0" x2="1093.9" y2="191.1" stroke="#d8e8fa" stroke-opacity="0.8" stroke-width="0.6"/><line x1="1099.1" y1="185.0" x2="1096.5" y2="191.1" stroke="#d8e8fa" stroke-opacity="0.8" stroke-width="0.6"/>
<g fill="url(#sky)"><rect x="955.3" y="217.9" width="7.4" height="6.0"/><rect x="955.3" y="228.8" width="7.4" height="6.8"/><rect x="955.3" y="240.3" width="7.4" height="6.3"/><rect x="955.3" y="251.5" width="7.4" height="6.5"/><rect x="955.3" y="263.0" width="7.4" height="6.0"/><rect x="966.2" y="217.9" width="7.7" height="6.0"/><rect x="966.2" y="228.8" width="7.7" height="6.8"/><rect x="966.2" y="240.3" width="7.7" height="6.3"/><rect x="966.2" y="251.5" width="7.7" height="6.5"/><rect x="966.2" y="263.0" width="7.7" height="6.0"/></g>
<g fill="url(#sky)"><rect x="984.6" y="196.0" width="15.3" height="6.8"/><rect x="984.6" y="207.5" width="15.3" height="6.8"/><rect x="984.6" y="218.7" width="15.3" height="7.3"/><rect x="984.6" y="230.2" width="15.3" height="6.8"/><rect x="984.6" y="241.7" width="15.3" height="7.1"/><rect x="984.6" y="252.9" width="15.3" height="7.4"/><rect x="1006.5" y="196.0" width="15.3" height="6.8"/><rect x="1006.5" y="207.5" width="15.3" height="6.8"/><rect x="1006.5" y="218.7" width="15.3" height="7.3"/><rect x="1006.5" y="230.2" width="15.3" height="6.8"/><rect x="1006.5" y="241.7" width="15.3" height="7.1"/><rect x="1006.5" y="252.9" width="15.3" height="7.4"/></g>
<g fill="url(#sky)"><rect x="993.6" y="269.0" width="20.0" height="10.4"/></g>
<g fill="url(#sky)"><rect x="1050.2" y="209.0" width="8.2" height="8.0"/><rect x="1050.2" y="220.6" width="8.2" height="7.7"/><rect x="1050.2" y="232.4" width="8.2" height="7.3"/><rect x="1050.2" y="243.3" width="8.2" height="8.2"/><rect x="1050.2" y="254.8" width="8.2" height="8.2"/><rect x="1050.2" y="265.7" width="8.2" height="8.3"/><rect x="1062.0" y="209.0" width="7.6" height="8.0"/><rect x="1062.0" y="220.6" width="7.6" height="7.7"/><rect x="1062.0" y="232.4" width="7.6" height="7.3"/><rect x="1062.0" y="243.3" width="7.6" height="8.2"/><rect x="1062.0" y="254.8" width="7.6" height="8.2"/><rect x="1062.0" y="265.7" width="7.6" height="8.3"/><rect x="1073.0" y="209.0" width="8.0" height="8.0"/><rect x="1073.0" y="220.6" width="8.0" height="7.7"/><rect x="1073.0" y="232.4" width="8.0" height="7.3"/><rect x="1073.0" y="243.3" width="8.0" height="8.2"/><rect x="1073.0" y="254.8" width="8.0" height="8.2"/><rect x="1073.0" y="265.7" width="8.0" height="8.3"/><rect x="1084.7" y="209.0" width="8.2" height="8.0"/><rect x="1084.7" y="220.6" width="8.2" height="7.7"/><rect x="1084.7" y="232.4" width="8.2" height="7.3"/><rect x="1084.7" y="243.3" width="8.2" height="8.2"/><rect x="1084.7" y="254.8" width="8.2" height="8.2"/><rect x="1084.7" y="265.7" width="8.2" height="8.3"/><rect x="1096.2" y="209.0" width="7.6" height="8.0"/><rect x="1096.2" y="220.6" width="7.6" height="7.7"/><rect x="1096.2" y="232.4" width="7.6" height="7.3"/><rect x="1096.2" y="243.3" width="7.6" height="8.2"/><rect x="1096.2" y="254.8" width="7.6" height="8.2"/><rect x="1096.2" y="265.7" width="7.6" height="8.3"/><rect x="1107.0" y="209.0" width="8.3" height="8.0"/><rect x="1107.0" y="220.6" width="8.3" height="7.7"/><rect x="1107.0" y="232.4" width="8.3" height="7.3"/><rect x="1107.0" y="243.3" width="8.3" height="8.2"/><rect x="1107.0" y="254.8" width="8.3" height="8.2"/><rect x="1107.0" y="265.7" width="8.3" height="8.3"/></g>
<line x1="107.6" y1="284.3" x2="107.6" y2="344.7" stroke="#fbf0ea" stroke-width="6.2" stroke-linecap="round"/><circle cx="107.6" cy="284.3" r="2.30" fill="#4d4d4d"/><circle cx="107.6" cy="344.7" r="2.30" fill="#4d4d4d"/><line x1="107.6" y1="284.3" x2="107.6" y2="344.7" stroke="#0a9be0" stroke-width="4.6"/><line x1="107.6" y1="284.3" x2="107.6" y2="344.7" stroke="#f2501a" stroke-width="1.75"/>
<line x1="157.4" y1="283.8" x2="157.4" y2="430.7" stroke="#fbf0ea" stroke-width="6.2" stroke-linecap="round"/><circle cx="157.4" cy="283.8" r="2.30" fill="#4d4d4d"/><circle cx="157.4" cy="430.7" r="2.30" fill="#4d4d4d"/><line x1="157.4" y1="283.8" x2="157.4" y2="430.7" stroke="#0a9be0" stroke-width="4.6"/><line x1="157.4" y1="283.8" x2="157.4" y2="430.7" stroke="#f2501a" stroke-width="1.75"/>
<line x1="185.4" y1="283.8" x2="185.4" y2="576.7" stroke="#fbf0ea" stroke-width="6.2" stroke-linecap="round"/><circle cx="185.4" cy="283.8" r="2.30" fill="#4d4d4d"/><circle cx="185.4" cy="576.7" r="2.30" fill="#4d4d4d"/><line x1="185.4" y1="283.8" x2="185.4" y2="576.7" stroke="#0a9be0" stroke-width="4.6"/><line x1="185.4" y1="283.8" x2="185.4" y2="576.7" stroke="#f2501a" stroke-width="1.75"/>
<line x1="282.6" y1="283.3" x2="282.6" y2="464.7" stroke="#fbf0ea" stroke-width="6.2" stroke-linecap="round"/><circle cx="282.6" cy="283.3" r="2.30" fill="#4d4d4d"/><circle cx="282.6" cy="464.7" r="2.30" fill="#4d4d4d"/><line x1="282.6" y1="283.3" x2="282.6" y2="464.7" stroke="#0a9be0" stroke-width="4.6"/><line x1="282.6" y1="283.3" x2="282.6" y2="464.7" stroke="#f2501a" stroke-width="1.75"/>
<line x1="289.7" y1="283.3" x2="289.7" y2="464.7" stroke="#fbf0ea" stroke-width="6.2" stroke-linecap="round"/><circle cx="289.7" cy="283.3" r="2.30" fill="#4d4d4d"/><circle cx="289.7" cy="464.7" r="2.30" fill="#4d4d4d"/><line x1="289.7" y1="283.3" x2="289.7" y2="464.7" stroke="#0a9be0" stroke-width="4.6"/><line x1="289.7" y1="283.3" x2="289.7" y2="464.7" stroke="#f2501a" stroke-width="1.75"/>
<line x1="296.7" y1="283.3" x2="296.7" y2="464.7" stroke="#fbf0ea" stroke-width="6.2" stroke-linecap="round"/><circle cx="296.7" cy="283.3" r="2.30" fill="#4d4d4d"/><circle cx="296.7" cy="464.7" r="2.30" fill="#4d4d4d"/><line x1="296.7" y1="283.3" x2="296.7" y2="464.7" stroke="#0a9be0" stroke-width="4.6"/><line x1="296.7" y1="283.3" x2="296.7" y2="464.7" stroke="#f2501a" stroke-width="1.75"/>
<line x1="29.7" y1="283" x2="29.7" y2="298" stroke="#1a9ae0" stroke-width="1.8"/>
<line x1="61" y1="283" x2="61" y2="298" stroke="#e9541f" stroke-width="1.8"/>
<rect x="24.5" y="297.1" width="41.1" height="10.3" fill="url(#coll)"/>
<line x1="244.3" y1="297.4" x2="244.3" y2="328.4" stroke="#fbf0ea" stroke-width="4.4" stroke-linecap="round"/><circle cx="244.3" cy="297.4" r="1.40" fill="#4d4d4d"/><circle cx="244.3" cy="328.4" r="1.40" fill="#4d4d4d"/><line x1="244.3" y1="297.4" x2="244.3" y2="328.4" stroke="#0a9be0" stroke-width="2.8"/><line x1="244.3" y1="297.4" x2="244.3" y2="328.4" stroke="#f2501a" stroke-width="1.06"/>
<line x1="256.8" y1="297.4" x2="256.8" y2="328.4" stroke="#fbf0ea" stroke-width="4.4" stroke-linecap="round"/><circle cx="256.8" cy="297.4" r="1.40" fill="#4d4d4d"/><circle cx="256.8" cy="328.4" r="1.40" fill="#4d4d4d"/><line x1="256.8" y1="297.4" x2="256.8" y2="328.4" stroke="#0a9be0" stroke-width="2.8"/><line x1="256.8" y1="297.4" x2="256.8" y2="328.4" stroke="#f2501a" stroke-width="1.06"/>
<line x1="269.3" y1="297.4" x2="269.3" y2="328.4" stroke="#fbf0ea" stroke-width="4.4" stroke-linecap="round"/><circle cx="269.3" cy="297.4" r="1.40" fill="#4d4d4d"/><circle cx="269.3" cy="328.4" r="1.40" fill="#4d4d4d"/><line x1="269.3" y1="297.4" x2="269.3" y2="328.4" stroke="#0a9be0" stroke-width="2.8"/><line x1="269.3" y1="297.4" x2="269.3" y2="328.4" stroke="#f2501a" stroke-width="1.06"/>
<line x1="240.2" y1="300.4" x2="240.2" y2="332.6" stroke="#fbf0ea" stroke-width="4.4" stroke-linecap="round"/><circle cx="240.2" cy="300.4" r="1.40" fill="#4d4d4d"/><circle cx="240.2" cy="332.6" r="1.40" fill="#4d4d4d"/><line x1="240.2" y1="300.4" x2="240.2" y2="332.6" stroke="#0a9be0" stroke-width="2.8"/><line x1="240.2" y1="300.4" x2="240.2" y2="332.6" stroke="#f2501a" stroke-width="1.06"/>
<line x1="252.5" y1="300.4" x2="252.5" y2="332.6" stroke="#fbf0ea" stroke-width="4.4" stroke-linecap="round"/><circle cx="252.5" cy="300.4" r="1.40" fill="#4d4d4d"/><circle cx="252.5" cy="332.6" r="1.40" fill="#4d4d4d"/><line x1="252.5" y1="300.4" x2="252.5" y2="332.6" stroke="#0a9be0" stroke-width="2.8"/><line x1="252.5" y1="300.4" x2="252.5" y2="332.6" stroke="#f2501a" stroke-width="1.06"/>
<line x1="264.8" y1="300.4" x2="264.8" y2="332.6" stroke="#fbf0ea" stroke-width="4.4" stroke-linecap="round"/><circle cx="264.8" cy="300.4" r="1.40" fill="#4d4d4d"/><circle cx="264.8" cy="332.6" r="1.40" fill="#4d4d4d"/><line x1="264.8" y1="300.4" x2="264.8" y2="332.6" stroke="#0a9be0" stroke-width="2.8"/><line x1="264.8" y1="300.4" x2="264.8" y2="332.6" stroke="#f2501a" stroke-width="1.06"/>
<polygon points="229.7,302.6 261.7,302.6 270.4,294.5 243.8,294.5" fill="none" stroke="#4a4a4a" stroke-width="1.5" stroke-linejoin="round"/>
<path d="M237,298.5 Q240,295.5 246,296.5 Q252,297.5 253,299" fill="none" stroke="#4a4a4a" stroke-width="1.2"/>
<line x1="230.5" y1="303.4" x2="230.5" y2="336.6" stroke="#fbf0ea" stroke-width="4.4" stroke-linecap="round"/><circle cx="230.5" cy="303.4" r="1.40" fill="#4d4d4d"/><circle cx="230.5" cy="336.6" r="1.40" fill="#4d4d4d"/><line x1="230.5" y1="303.4" x2="230.5" y2="336.6" stroke="#0a9be0" stroke-width="2.8"/><line x1="230.5" y1="303.4" x2="230.5" y2="336.6" stroke="#f2501a" stroke-width="1.06"/>
<line x1="235.7" y1="303.4" x2="235.7" y2="336.6" stroke="#fbf0ea" stroke-width="4.4" stroke-linecap="round"/><circle cx="235.7" cy="303.4" r="1.40" fill="#4d4d4d"/><circle cx="235.7" cy="336.6" r="1.40" fill="#4d4d4d"/><line x1="235.7" y1="303.4" x2="235.7" y2="336.6" stroke="#0a9be0" stroke-width="2.8"/><line x1="235.7" y1="303.4" x2="235.7" y2="336.6" stroke="#f2501a" stroke-width="1.06"/>
<line x1="247.6" y1="303.4" x2="247.6" y2="336.6" stroke="#fbf0ea" stroke-width="4.4" stroke-linecap="round"/><circle cx="247.6" cy="303.4" r="1.40" fill="#4d4d4d"/><circle cx="247.6" cy="336.6" r="1.40" fill="#4d4d4d"/><line x1="247.6" y1="303.4" x2="247.6" y2="336.6" stroke="#0a9be0" stroke-width="2.8"/><line x1="247.6" y1="303.4" x2="247.6" y2="336.6" stroke="#f2501a" stroke-width="1.06"/>
<line x1="259.9" y1="303.4" x2="259.9" y2="336.6" stroke="#fbf0ea" stroke-width="4.4" stroke-linecap="round"/><circle cx="259.9" cy="303.4" r="1.40" fill="#4d4d4d"/><circle cx="259.9" cy="336.6" r="1.40" fill="#4d4d4d"/><line x1="259.9" y1="303.4" x2="259.9" y2="336.6" stroke="#0a9be0" stroke-width="2.8"/><line x1="259.9" y1="303.4" x2="259.9" y2="336.6" stroke="#f2501a" stroke-width="1.06"/>
<line x1="229.7" y1="302.6" x2="251.4" y2="283.6" stroke="#4a4a4a" stroke-width="1.5"/>
<line x1="229.7" y1="302.6" x2="261.7" y2="302.6" stroke="#4a4a4a" stroke-width="1.6"/>
<ellipse cx="384" cy="321" rx="14" ry="9.5" fill="url(#gBlue)"/>
<ellipse cx="410" cy="350.5" rx="14" ry="9" fill="url(#gRed)"/>
<ellipse cx="465" cy="462.5" rx="30" ry="25" fill="url(#gBlue)"/>
<ellipse cx="515.5" cy="461" rx="28" ry="24" fill="url(#gRed)"/>
<ellipse cx="724" cy="603" rx="36" ry="24" fill="#3483b8" fill-opacity="0.9" filter="url(#blur14)"/>
<ellipse cx="832" cy="592" rx="38" ry="28" fill="#c42a38" fill-opacity="0.75" filter="url(#blur14)"/>
<g fill="#0a9be0"><rect x="377.6" y="303.9" width="1.3" height="2.6"/><rect x="380.5" y="303.9" width="2.5" height="2.6"/><rect x="384.7" y="303.9" width="1.3" height="2.6"/><rect x="389.1" y="306.9" width="1.3" height="2.6"/><rect x="392.0" y="306.9" width="2.5" height="2.6"/><rect x="396.2" y="306.9" width="1.3" height="2.6"/><rect x="369.5" y="309.4" width="1.7" height="2.6"/><rect x="373.1" y="309.4" width="3.2" height="2.6"/><rect x="378.3" y="309.4" width="1.7" height="2.6"/><rect x="382.0" y="309.4" width="3.2" height="2.6"/><rect x="392.2" y="312.1" width="1.5" height="2.6"/><rect x="395.6" y="312.1" width="2.9" height="2.6"/><rect x="400.2" y="312.1" width="1.5" height="2.6"/><rect x="359.4" y="315.6" width="1.7" height="2.6"/><rect x="363.2" y="315.6" width="3.3" height="2.6"/><rect x="368.6" y="315.6" width="1.7" height="2.6"/><rect x="372.4" y="315.6" width="3.3" height="2.6"/><rect x="377.8" y="315.6" width="1.7" height="2.6"/><rect x="390.4" y="319.5" width="1.3" height="2.6"/><rect x="393.3" y="319.5" width="2.5" height="2.6"/><rect x="397.5" y="319.5" width="1.3" height="2.6"/><rect x="361.3" y="321.1" width="1.4" height="2.6"/><rect x="364.4" y="321.1" width="2.6" height="2.6"/><rect x="368.7" y="321.1" width="1.4" height="2.6"/><rect x="373.1" y="323.3" width="1.4" height="2.6"/><rect x="376.2" y="323.3" width="2.7" height="2.6"/><rect x="380.5" y="323.3" width="1.4" height="2.6"/><rect x="401.3" y="331.2" width="1.7" height="2.6"/><rect x="405.1" y="331.2" width="3.3" height="2.6"/><rect x="410.4" y="331.2" width="1.7" height="2.6"/><rect x="414.1" y="331.2" width="3.3" height="2.6"/><rect x="399.3" y="337.9" width="2.0" height="2.6"/><rect x="403.7" y="337.9" width="3.8" height="2.6"/><rect x="409.9" y="337.9" width="2.0" height="2.6"/><rect x="414.3" y="337.9" width="3.8" height="2.6"/><rect x="420.5" y="337.9" width="2.0" height="2.6"/><rect x="424.9" y="337.9" width="3.8" height="2.6"/><rect x="416.0" y="343.0" width="1.4" height="2.6"/><rect x="419.1" y="343.0" width="2.6" height="2.6"/><rect x="423.4" y="343.0" width="1.4" height="2.6"/><rect x="392.6" y="345.1" width="2.0" height="2.6"/><rect x="396.9" y="345.1" width="3.7" height="2.6"/><rect x="402.9" y="345.1" width="2.0" height="2.6"/><rect x="412.9" y="347.6" width="1.4" height="2.6"/><rect x="416.0" y="347.6" width="2.6" height="2.6"/><rect x="420.3" y="347.6" width="1.4" height="2.6"/></g>
<g fill="#0a9be0"><rect x="887.0" y="292.5" width="1.3" height="2.0"/><rect x="889.8" y="292.5" width="2.4" height="2.0"/><rect x="893.7" y="292.5" width="1.3" height="2.0"/><rect x="897.8" y="294.0" width="1.0" height="2.0"/><rect x="900.0" y="294.0" width="1.9" height="2.0"/><rect x="903.2" y="294.0" width="1.0" height="2.0"/><rect x="883.7" y="297.8" width="2.1" height="2.0"/><rect x="888.4" y="297.8" width="4.0" height="2.0"/><rect x="894.9" y="297.8" width="2.1" height="2.0"/><rect x="899.6" y="297.8" width="4.0" height="2.0"/><rect x="906.1" y="297.8" width="2.1" height="2.0"/><rect x="885.4" y="302.2" width="1.8" height="2.0"/><rect x="889.3" y="302.2" width="3.4" height="2.0"/><rect x="894.8" y="302.2" width="1.8" height="2.0"/><rect x="898.7" y="302.2" width="3.4" height="2.0"/><rect x="904.1" y="302.2" width="1.8" height="2.0"/><rect x="908.0" y="302.2" width="3.4" height="2.0"/><rect x="893.9" y="306.0" width="1.1" height="2.0"/><rect x="896.4" y="306.0" width="2.2" height="2.0"/><rect x="899.9" y="306.0" width="1.1" height="2.0"/><rect x="1027.0" y="307.5" width="1.3" height="2.0"/><rect x="1029.8" y="307.5" width="2.4" height="2.0"/><rect x="1033.7" y="307.5" width="1.3" height="2.0"/><rect x="1023.4" y="310.5" width="1.7" height="2.0"/><rect x="1027.1" y="310.5" width="3.2" height="2.0"/><rect x="1032.4" y="310.5" width="1.7" height="2.0"/><rect x="1036.1" y="310.5" width="3.2" height="2.0"/><rect x="1025.4" y="314.0" width="1.7" height="2.0"/><rect x="1029.1" y="314.0" width="3.2" height="2.0"/><rect x="1034.4" y="314.0" width="1.7" height="2.0"/><rect x="1038.1" y="314.0" width="3.2" height="2.0"/><rect x="1031.2" y="317.5" width="1.5" height="2.0"/><rect x="1034.6" y="317.5" width="2.9" height="2.0"/><rect x="1039.2" y="317.5" width="1.5" height="2.0"/></g>
<g fill="#22a39b"><rect x="399.6" y="400.7" width="1.5" height="3"/><rect x="403.0" y="400.7" width="2.9" height="3"/><rect x="407.6" y="400.7" width="1.5" height="3"/><rect x="421.8" y="402.0" width="1.5" height="3"/><rect x="425.2" y="402.0" width="2.9" height="3"/><rect x="429.8" y="402.0" width="1.5" height="3"/><rect x="465.5" y="397.3" width="1.5" height="3"/><rect x="468.9" y="397.3" width="2.9" height="3"/><rect x="473.5" y="397.3" width="1.5" height="3"/><rect x="500.2" y="399.2" width="1.5" height="3"/><rect x="503.6" y="399.2" width="2.9" height="3"/><rect x="508.2" y="399.2" width="1.5" height="3"/><rect x="451.4" y="404.8" width="1.5" height="3"/><rect x="454.8" y="404.8" width="2.9" height="3"/><rect x="459.4" y="404.8" width="1.5" height="3"/><rect x="482.4" y="405.4" width="1.5" height="3"/><rect x="485.8" y="405.4" width="2.9" height="3"/><rect x="490.4" y="405.4" width="1.5" height="3"/><rect x="527.9" y="406.7" width="1.5" height="3"/><rect x="531.3" y="406.7" width="2.9" height="3"/><rect x="535.9" y="406.7" width="1.5" height="3"/><rect x="559.5" y="406.7" width="1.5" height="3"/><rect x="562.9" y="406.7" width="2.9" height="3"/><rect x="567.5" y="406.7" width="1.5" height="3"/><rect x="392.5" y="409.5" width="1.5" height="3"/><rect x="395.9" y="409.5" width="2.9" height="3"/><rect x="400.5" y="409.5" width="1.5" height="3"/><rect x="413.7" y="409.5" width="1.5" height="3"/><rect x="417.1" y="409.5" width="2.9" height="3"/><rect x="421.7" y="409.5" width="1.5" height="3"/><rect x="433.1" y="412.0" width="1.5" height="3"/><rect x="436.5" y="412.0" width="2.9" height="3"/><rect x="441.1" y="412.0" width="1.5" height="3"/><rect x="462.1" y="412.7" width="1.5" height="3"/><rect x="465.5" y="412.7" width="2.9" height="3"/><rect x="470.1" y="412.7" width="1.5" height="3"/><rect x="500.2" y="410.8" width="1.5" height="3"/><rect x="503.6" y="410.8" width="2.9" height="3"/><rect x="508.2" y="410.8" width="1.5" height="3"/><rect x="550.5" y="415.2" width="1.5" height="3"/><rect x="553.9" y="415.2" width="2.9" height="3"/><rect x="558.5" y="415.2" width="1.5" height="3"/><rect x="573.6" y="415.5" width="1.5" height="3"/><rect x="577.0" y="415.5" width="2.9" height="3"/><rect x="581.6" y="415.5" width="1.5" height="3"/><rect x="409.0" y="419.3" width="1.5" height="3"/><rect x="412.4" y="419.3" width="2.9" height="3"/><rect x="417.0" y="419.3" width="1.5" height="3"/><rect x="438.8" y="422.1" width="1.5" height="3"/><rect x="442.2" y="422.1" width="2.9" height="3"/><rect x="446.8" y="422.1" width="1.5" height="3"/><rect x="469.2" y="422.7" width="1.5" height="3"/><rect x="472.6" y="422.7" width="2.9" height="3"/><rect x="477.2" y="422.7" width="1.5" height="3"/><rect x="489.9" y="418.5" width="1.5" height="3"/><rect x="493.3" y="418.5" width="2.9" height="3"/><rect x="497.9" y="418.5" width="1.5" height="3"/><rect x="520.0" y="418.0" width="1.5" height="3"/><rect x="523.4" y="418.0" width="2.9" height="3"/><rect x="528.0" y="418.0" width="1.5" height="3"/><rect x="539.7" y="425.1" width="1.5" height="3"/><rect x="543.1" y="425.1" width="2.9" height="3"/><rect x="547.7" y="425.1" width="1.5" height="3"/><rect x="571.7" y="427.0" width="1.5" height="3"/><rect x="575.1" y="427.0" width="2.9" height="3"/><rect x="579.7" y="427.0" width="1.5" height="3"/><rect x="392.5" y="425.1" width="1.5" height="3"/><rect x="395.9" y="425.1" width="2.9" height="3"/><rect x="400.5" y="425.1" width="1.5" height="3"/><rect x="425.6" y="428.0" width="1.5" height="3"/><rect x="429.0" y="428.0" width="2.9" height="3"/><rect x="433.6" y="428.0" width="1.5" height="3"/><rect x="453.8" y="428.7" width="1.5" height="3"/><rect x="457.2" y="428.7" width="2.9" height="3"/><rect x="461.8" y="428.7" width="1.5" height="3"/><rect x="478.6" y="428.7" width="1.5" height="3"/><rect x="482.0" y="428.7" width="2.9" height="3"/><rect x="486.6" y="428.7" width="1.5" height="3"/><rect x="510.2" y="428.0" width="1.5" height="3"/><rect x="513.6" y="428.0" width="2.9" height="3"/><rect x="518.2" y="428.0" width="1.5" height="3"/><rect x="559.9" y="432.7" width="1.5" height="3"/><rect x="563.3" y="432.7" width="2.9" height="3"/><rect x="567.9" y="432.7" width="1.5" height="3"/><rect x="403.4" y="435.3" width="1.5" height="3"/><rect x="406.8" y="435.3" width="2.9" height="3"/><rect x="411.4" y="435.3" width="1.5" height="3"/><rect x="433.1" y="438.1" width="1.5" height="3"/><rect x="436.5" y="438.1" width="2.9" height="3"/><rect x="441.1" y="438.1" width="1.5" height="3"/><rect x="464.1" y="438.7" width="1.5" height="3"/><rect x="467.5" y="438.7" width="2.9" height="3"/><rect x="472.1" y="438.7" width="1.5" height="3"/><rect x="489.9" y="435.9" width="1.5" height="3"/><rect x="493.3" y="435.9" width="2.9" height="3"/><rect x="497.9" y="435.9" width="1.5" height="3"/><rect x="527.9" y="435.3" width="1.5" height="3"/><rect x="531.3" y="435.3" width="2.9" height="3"/><rect x="535.9" y="435.3" width="1.5" height="3"/><rect x="545.9" y="441.9" width="1.5" height="3"/><rect x="549.3" y="441.9" width="2.9" height="3"/><rect x="553.9" y="441.9" width="1.5" height="3"/><rect x="573.6" y="443.4" width="1.5" height="3"/><rect x="577.0" y="443.4" width="2.9" height="3"/><rect x="581.6" y="443.4" width="1.5" height="3"/><rect x="415.2" y="445.3" width="1.5" height="3"/><rect x="418.6" y="445.3" width="2.9" height="3"/><rect x="423.2" y="445.3" width="1.5" height="3"/><rect x="444.4" y="445.6" width="1.5" height="3"/><rect x="447.8" y="445.6" width="2.9" height="3"/><rect x="452.4" y="445.6" width="1.5" height="3"/><rect x="470.2" y="445.3" width="1.5" height="3"/><rect x="473.6" y="445.3" width="2.9" height="3"/><rect x="478.2" y="445.3" width="1.5" height="3"/><rect x="491.8" y="445.8" width="1.5" height="3"/><rect x="495.2" y="445.8" width="2.9" height="3"/><rect x="499.8" y="445.8" width="1.5" height="3"/><rect x="510.6" y="439.6" width="1.5" height="3"/><rect x="514.0" y="439.6" width="2.9" height="3"/><rect x="518.6" y="439.6" width="1.5" height="3"/><rect x="522.8" y="445.3" width="1.5" height="3"/><rect x="526.2" y="445.3" width="2.9" height="3"/><rect x="530.8" y="445.3" width="1.5" height="3"/><rect x="536.0" y="451.3" width="1.5" height="3"/><rect x="539.4" y="451.3" width="2.9" height="3"/><rect x="544.0" y="451.3" width="1.5" height="3"/><rect x="420.3" y="455.2" width="1.5" height="3"/><rect x="423.7" y="455.2" width="2.9" height="3"/><rect x="428.3" y="455.2" width="1.5" height="3"/><rect x="451.4" y="455.6" width="1.5" height="3"/><rect x="454.8" y="455.6" width="2.9" height="3"/><rect x="459.4" y="455.6" width="1.5" height="3"/><rect x="480.9" y="453.2" width="1.5" height="3"/><rect x="484.3" y="453.2" width="2.9" height="3"/><rect x="488.9" y="453.2" width="1.5" height="3"/><rect x="507.8" y="451.8" width="1.5" height="3"/><rect x="511.2" y="451.8" width="2.9" height="3"/><rect x="515.8" y="451.8" width="1.5" height="3"/><rect x="468.3" y="460.9" width="1.5" height="3"/><rect x="471.7" y="460.9" width="2.9" height="3"/><rect x="476.3" y="460.9" width="1.5" height="3"/><rect x="497.1" y="461.8" width="1.5" height="3"/><rect x="500.5" y="461.8" width="2.9" height="3"/><rect x="505.1" y="461.8" width="1.5" height="3"/><rect x="527.9" y="461.2" width="1.5" height="3"/><rect x="531.3" y="461.2" width="2.9" height="3"/><rect x="535.9" y="461.2" width="1.5" height="3"/><rect x="557.6" y="458.4" width="1.5" height="3"/><rect x="561.0" y="458.4" width="2.9" height="3"/><rect x="565.6" y="458.4" width="1.5" height="3"/><rect x="406.8" y="465.0" width="1.5" height="3"/><rect x="410.2" y="465.0" width="2.9" height="3"/><rect x="414.8" y="465.0" width="1.5" height="3"/><rect x="433.1" y="464.4" width="1.5" height="3"/><rect x="436.5" y="464.4" width="2.9" height="3"/><rect x="441.1" y="464.4" width="1.5" height="3"/><rect x="485.8" y="468.4" width="1.5" height="3"/><rect x="489.2" y="468.4" width="2.9" height="3"/><rect x="493.8" y="468.4" width="1.5" height="3"/><rect x="517.2" y="469.1" width="1.5" height="3"/><rect x="520.6" y="469.1" width="2.9" height="3"/><rect x="525.2" y="469.1" width="1.5" height="3"/><rect x="545.9" y="468.4" width="1.5" height="3"/><rect x="549.3" y="468.4" width="2.9" height="3"/><rect x="553.9" y="468.4" width="1.5" height="3"/><rect x="428.4" y="477.2" width="1.5" height="3"/><rect x="431.8" y="477.2" width="2.9" height="3"/><rect x="436.4" y="477.2" width="1.5" height="3"/><rect x="464.1" y="474.0" width="1.5" height="3"/><rect x="467.5" y="474.0" width="2.9" height="3"/><rect x="472.1" y="474.0" width="1.5" height="3"/><rect x="509.7" y="478.7" width="1.5" height="3"/><rect x="513.1" y="478.7" width="2.9" height="3"/><rect x="517.7" y="478.7" width="1.5" height="3"/><rect x="540.7" y="478.2" width="1.5" height="3"/><rect x="544.1" y="478.2" width="2.9" height="3"/><rect x="548.7" y="478.2" width="1.5" height="3"/></g>
<g fill="#22a39b"><rect x="855.7" y="461.5" width="0.9" height="2.0"/><rect x="857.7" y="461.5" width="1.7" height="2.0"/><rect x="860.4" y="461.5" width="0.9" height="2.0"/><rect x="867.2" y="463.0" width="1.5" height="2.0"/><rect x="870.6" y="463.0" width="2.9" height="2.0"/><rect x="875.2" y="463.0" width="1.5" height="2.0"/><rect x="878.6" y="463.0" width="2.9" height="2.0"/><rect x="848.3" y="468.0" width="2.8" height="2.0"/><rect x="854.4" y="468.0" width="5.3" height="2.0"/><rect x="862.9" y="468.0" width="2.8" height="2.0"/><rect x="869.0" y="468.0" width="5.3" height="2.0"/><rect x="877.6" y="468.0" width="2.8" height="2.0"/><rect x="883.7" y="468.0" width="5.3" height="2.0"/><rect x="853.2" y="472.0" width="2.7" height="2.0"/><rect x="859.0" y="472.0" width="5.0" height="2.0"/><rect x="867.2" y="472.0" width="2.7" height="2.0"/><rect x="873.0" y="472.0" width="5.0" height="2.0"/><rect x="881.2" y="472.0" width="2.7" height="2.0"/><rect x="887.0" y="472.0" width="5.0" height="2.0"/><rect x="895.2" y="472.0" width="2.7" height="2.0"/><rect x="866.5" y="476.5" width="1.9" height="2.0"/><rect x="870.7" y="476.5" width="3.6" height="2.0"/><rect x="876.5" y="476.5" width="1.9" height="2.0"/><rect x="1002.1" y="436.3" width="1.4" height="2.0"/><rect x="1005.2" y="436.3" width="2.6" height="2.0"/><rect x="1009.5" y="436.3" width="1.4" height="2.0"/><rect x="1016.7" y="437.8" width="0.9" height="2.0"/><rect x="1018.7" y="437.8" width="1.7" height="2.0"/><rect x="1021.4" y="437.8" width="0.9" height="2.0"/><rect x="998.0" y="442.5" width="2.4" height="2.0"/><rect x="1003.3" y="442.5" width="4.6" height="2.0"/><rect x="1010.8" y="442.5" width="2.4" height="2.0"/><rect x="1016.1" y="442.5" width="4.6" height="2.0"/><rect x="1023.6" y="442.5" width="2.4" height="2.0"/><rect x="996.0" y="447.8" width="2.4" height="2.0"/><rect x="1001.2" y="447.8" width="4.6" height="2.0"/><rect x="1008.6" y="447.8" width="2.4" height="2.0"/><rect x="1013.9" y="447.8" width="4.6" height="2.0"/><rect x="1021.3" y="447.8" width="2.4" height="2.0"/><rect x="1026.6" y="447.8" width="4.6" height="2.0"/><rect x="1010.1" y="453.5" width="1.4" height="2.0"/><rect x="1013.2" y="453.5" width="2.6" height="2.0"/><rect x="1017.5" y="453.5" width="1.4" height="2.0"/></g>
<line x1="384.4" y1="281" x2="384.4" y2="321.5" stroke="#0a9be0" stroke-width="1.8"/>
<line x1="409.9" y1="281" x2="409.9" y2="351.5" stroke="#e9541f" stroke-width="1.8"/>
<line x1="468.4" y1="281" x2="468.4" y2="455.5" stroke="#0a9be0" stroke-width="3"/>
<line x1="514" y1="281" x2="514" y2="455.5" stroke="#e30a17" stroke-width="3"/>
<g fill="#0a9be0"><rect x="684.0" y="463.8" width="3.7" height="4" rx="2"/><rect x="688.8" y="463.8" width="5.9" height="4" rx="2"/><rect x="695.7" y="463.8" width="3.7" height="4" rx="2"/><rect x="660.4" y="471.3" width="5.0" height="4" rx="2"/><rect x="666.9" y="471.3" width="8.0" height="4" rx="2"/><rect x="676.4" y="471.3" width="5.0" height="4" rx="2"/><rect x="635.3" y="475.8" width="3.6" height="4" rx="2"/><rect x="639.9" y="475.8" width="5.6" height="4" rx="2"/><rect x="646.5" y="475.8" width="3.6" height="4" rx="2"/><rect x="696.8" y="477.1" width="4.4" height="4" rx="2"/><rect x="702.5" y="477.1" width="7.0" height="4" rx="2"/><rect x="710.9" y="477.1" width="4.4" height="4" rx="2"/><rect x="614.2" y="483.0" width="5.1" height="4" rx="2"/><rect x="620.7" y="483.0" width="8.0" height="4" rx="2"/><rect x="630.2" y="483.0" width="5.1" height="4" rx="2"/><rect x="650.6" y="484.8" width="4.4" height="4" rx="2"/><rect x="656.3" y="484.8" width="7.0" height="4" rx="2"/><rect x="664.7" y="484.8" width="4.4" height="4" rx="2"/><rect x="676.3" y="484.3" width="4.9" height="4" rx="2"/><rect x="682.7" y="484.3" width="7.8" height="4" rx="2"/><rect x="691.9" y="484.3" width="4.9" height="4" rx="2"/><rect x="630.1" y="492.0" width="4.9" height="4" rx="2"/><rect x="636.5" y="492.0" width="7.8" height="4" rx="2"/><rect x="645.7" y="492.0" width="4.9" height="4" rx="2"/><rect x="697.8" y="490.6" width="4.2" height="4" rx="2"/><rect x="703.2" y="490.6" width="6.6" height="4" rx="2"/><rect x="711.1" y="490.6" width="4.2" height="4" rx="2"/><rect x="648.6" y="497.8" width="4.4" height="4" rx="2"/><rect x="654.3" y="497.8" width="7.0" height="4" rx="2"/><rect x="662.7" y="497.8" width="4.4" height="4" rx="2"/><rect x="676.3" y="497.8" width="5.0" height="4" rx="2"/><rect x="682.8" y="497.8" width="8.0" height="4" rx="2"/><rect x="692.3" y="497.8" width="5.0" height="4" rx="2"/><rect x="627.6" y="505.3" width="5.0" height="4" rx="2"/><rect x="634.1" y="505.3" width="8.0" height="4" rx="2"/><rect x="643.6" y="505.3" width="5.0" height="4" rx="2"/><rect x="691.7" y="505.3" width="4.4" height="4" rx="2"/><rect x="697.4" y="505.3" width="7.0" height="4" rx="2"/><rect x="705.7" y="505.3" width="4.4" height="4" rx="2"/><rect x="670.6" y="512.5" width="5.1" height="4" rx="2"/><rect x="677.1" y="512.5" width="8.0" height="4" rx="2"/><rect x="686.6" y="512.5" width="5.1" height="4" rx="2"/></g>
<g fill="#0a9be0"><rect x="689.7" y="584.1" width="8.5" height="3.6" rx="1.8"/><rect x="699.2" y="584.1" width="8.5" height="3.6" rx="1.8"/><rect x="721.8" y="584.1" width="8.5" height="3.6" rx="1.8"/><rect x="731.3" y="584.1" width="8.5" height="3.6" rx="1.8"/><rect x="753.8" y="584.1" width="8.5" height="3.6" rx="1.8"/><rect x="763.3" y="584.1" width="8.5" height="3.6" rx="1.8"/><rect x="707.7" y="592.0" width="8.5" height="3.6" rx="1.8"/><rect x="717.2" y="592.0" width="8.5" height="3.6" rx="1.8"/><rect x="739.7" y="592.0" width="8.5" height="3.6" rx="1.8"/><rect x="749.2" y="592.0" width="8.5" height="3.6" rx="1.8"/><rect x="689.7" y="601.5" width="8.5" height="3.6" rx="1.8"/><rect x="699.2" y="601.5" width="8.5" height="3.6" rx="1.8"/><rect x="721.8" y="601.5" width="8.5" height="3.6" rx="1.8"/><rect x="731.3" y="601.5" width="8.5" height="3.6" rx="1.8"/><rect x="753.8" y="601.5" width="8.5" height="3.6" rx="1.8"/><rect x="763.3" y="601.5" width="8.5" height="3.6" rx="1.8"/><rect x="707.7" y="609.7" width="8.5" height="3.6" rx="1.8"/><rect x="717.2" y="609.7" width="8.5" height="3.6" rx="1.8"/><rect x="739.7" y="609.7" width="8.5" height="3.6" rx="1.8"/><rect x="749.2" y="609.7" width="8.5" height="3.6" rx="1.8"/></g>
<g fill="#e30a17"><rect x="777.0" y="584.7" width="8.5" height="3.6" rx="1.8"/><rect x="786.5" y="584.7" width="8.5" height="3.6" rx="1.8"/><rect x="809.0" y="584.7" width="8.5" height="3.6" rx="1.8"/><rect x="818.5" y="584.7" width="8.5" height="3.6" rx="1.8"/><rect x="841.0" y="584.7" width="8.5" height="3.6" rx="1.8"/><rect x="850.5" y="584.7" width="8.5" height="3.6" rx="1.8"/><rect x="795.0" y="594.2" width="8.5" height="3.6" rx="1.8"/><rect x="804.5" y="594.2" width="8.5" height="3.6" rx="1.8"/><rect x="827.0" y="594.2" width="8.5" height="3.6" rx="1.8"/><rect x="836.5" y="594.2" width="8.5" height="3.6" rx="1.8"/><rect x="777.0" y="603.2" width="8.5" height="3.6" rx="1.8"/><rect x="786.5" y="603.2" width="8.5" height="3.6" rx="1.8"/><rect x="809.0" y="603.2" width="8.5" height="3.6" rx="1.8"/><rect x="818.5" y="603.2" width="8.5" height="3.6" rx="1.8"/><rect x="841.0" y="603.2" width="8.5" height="3.6" rx="1.8"/><rect x="850.5" y="603.2" width="8.5" height="3.6" rx="1.8"/><rect x="795.0" y="612.2" width="8.5" height="3.6" rx="1.8"/><rect x="804.5" y="612.2" width="8.5" height="3.6" rx="1.8"/><rect x="827.0" y="612.2" width="8.5" height="3.6" rx="1.8"/><rect x="836.5" y="612.2" width="8.5" height="3.6" rx="1.8"/></g>
<g fill="#e30a17"><rect x="833.5" y="674.9" width="8.5" height="3.6" rx="1.8"/><rect x="843.0" y="674.9" width="8.5" height="3.6" rx="1.8"/><rect x="864.9" y="674.9" width="8.5" height="3.6" rx="1.8"/><rect x="874.4" y="674.9" width="8.5" height="3.6" rx="1.8"/><rect x="897.8" y="674.9" width="8.5" height="3.6" rx="1.8"/><rect x="907.3" y="674.9" width="8.5" height="3.6" rx="1.8"/><rect x="851.4" y="682.3" width="8.5" height="3.6" rx="1.8"/><rect x="860.9" y="682.3" width="8.5" height="3.6" rx="1.8"/><rect x="882.8" y="682.3" width="8.5" height="3.6" rx="1.8"/><rect x="892.3" y="682.3" width="8.5" height="3.6" rx="1.8"/><rect x="833.5" y="692.2" width="8.5" height="3.6" rx="1.8"/><rect x="843.0" y="692.2" width="8.5" height="3.6" rx="1.8"/><rect x="864.9" y="692.2" width="8.5" height="3.6" rx="1.8"/><rect x="874.4" y="692.2" width="8.5" height="3.6" rx="1.8"/><rect x="897.8" y="692.2" width="8.5" height="3.6" rx="1.8"/><rect x="907.3" y="692.2" width="8.5" height="3.6" rx="1.8"/><rect x="851.4" y="700.0" width="8.5" height="3.6" rx="1.8"/><rect x="860.9" y="700.0" width="8.5" height="3.6" rx="1.8"/><rect x="882.8" y="700.0" width="8.5" height="3.6" rx="1.8"/><rect x="892.3" y="700.0" width="8.5" height="3.6" rx="1.8"/><rect x="960.6" y="674.9" width="8.5" height="3.6" rx="1.8"/><rect x="970.1" y="674.9" width="8.5" height="3.6" rx="1.8"/><rect x="992.0" y="674.9" width="8.5" height="3.6" rx="1.8"/><rect x="1001.5" y="674.9" width="8.5" height="3.6" rx="1.8"/><rect x="1024.0" y="674.9" width="8.5" height="3.6" rx="1.8"/><rect x="1033.5" y="674.9" width="8.5" height="3.6" rx="1.8"/><rect x="977.6" y="682.3" width="8.5" height="3.6" rx="1.8"/><rect x="987.1" y="682.3" width="8.5" height="3.6" rx="1.8"/><rect x="1009.0" y="682.3" width="8.5" height="3.6" rx="1.8"/><rect x="1018.5" y="682.3" width="8.5" height="3.6" rx="1.8"/><rect x="960.6" y="692.2" width="8.5" height="3.6" rx="1.8"/><rect x="970.1" y="692.2" width="8.5" height="3.6" rx="1.8"/><rect x="992.0" y="692.2" width="8.5" height="3.6" rx="1.8"/><rect x="1001.5" y="692.2" width="8.5" height="3.6" rx="1.8"/><rect x="1024.0" y="692.2" width="8.5" height="3.6" rx="1.8"/><rect x="1033.5" y="692.2" width="8.5" height="3.6" rx="1.8"/><rect x="977.6" y="700.0" width="8.5" height="3.6" rx="1.8"/><rect x="987.1" y="700.0" width="8.5" height="3.6" rx="1.8"/><rect x="1009.0" y="700.0" width="8.5" height="3.6" rx="1.8"/><rect x="1018.5" y="700.0" width="8.5" height="3.6" rx="1.8"/></g>
<g fill="#0a9be0"><rect x="897.8" y="701.2" width="8.5" height="3.6" rx="1.8"/><rect x="907.3" y="701.2" width="8.5" height="3.6" rx="1.8"/><rect x="929.2" y="701.2" width="8.5" height="3.6" rx="1.8"/><rect x="938.7" y="701.2" width="8.5" height="3.6" rx="1.8"/><rect x="960.6" y="701.2" width="8.5" height="3.6" rx="1.8"/><rect x="970.1" y="701.2" width="8.5" height="3.6" rx="1.8"/><rect x="915.7" y="709.2" width="8.5" height="3.6" rx="1.8"/><rect x="925.2" y="709.2" width="8.5" height="3.6" rx="1.8"/><rect x="947.0" y="709.2" width="8.5" height="3.6" rx="1.8"/><rect x="956.5" y="709.2" width="8.5" height="3.6" rx="1.8"/><rect x="897.8" y="718.8" width="8.5" height="3.6" rx="1.8"/><rect x="907.3" y="718.8" width="8.5" height="3.6" rx="1.8"/><rect x="929.2" y="718.8" width="8.5" height="3.6" rx="1.8"/><rect x="938.7" y="718.8" width="8.5" height="3.6" rx="1.8"/><rect x="960.6" y="718.8" width="8.5" height="3.6" rx="1.8"/><rect x="970.1" y="718.8" width="8.5" height="3.6" rx="1.8"/><rect x="915.7" y="726.6" width="8.5" height="3.6" rx="1.8"/><rect x="925.2" y="726.6" width="8.5" height="3.6" rx="1.8"/><rect x="947.0" y="726.6" width="8.5" height="3.6" rx="1.8"/><rect x="956.5" y="726.6" width="8.5" height="3.6" rx="1.8"/></g>
<polyline points="657,297 657,468 640.4,494.5" fill="none" stroke="#0a9be0" stroke-width="3.6"/>
<polyline points="682.2,297 682.2,468 697.8,495.5" fill="none" stroke="#e30a17" stroke-width="3.6"/>
<polyline points="762.8,297 762.8,554.6 733.3,604.6" fill="none" stroke="#0a9be0" stroke-width="3.6"/>
<polyline points="791.5,297 791.5,554.6 820,606" fill="none" stroke="#e30a17" stroke-width="3.6"/>
<polyline points="922.8,298 922.8,614.7 878.9,685.6" fill="none" stroke="#e30a17" stroke-width="5.2"/>
<polyline points="961.8,298 961.8,614.7 1002.5,685" fill="none" stroke="#e30a17" stroke-width="5.2"/>
<line x1="942.2" y1="298" x2="942.2" y2="712.6" stroke="#0a9be0" stroke-width="5.2"/>
<line x1="646" y1="315" x2="646" y2="325.5" stroke="#0a9be0" stroke-width="1.3"/><polygon fill="#0a9be0" points="646,328.5 643.4,323.5 648.6,323.5"/>
<line x1="695.4" y1="318" x2="695.4" y2="328.5" stroke="#e30a17" stroke-width="1.3"/><polygon fill="#e30a17" points="695.4,315 692.8,320 698.0,320"/>
<line x1="752.7" y1="315" x2="752.7" y2="325.5" stroke="#0a9be0" stroke-width="1.3"/><polygon fill="#0a9be0" points="752.7,328.5 750.1,323.5 755.3000000000001,323.5"/>
<line x1="803" y1="318" x2="803" y2="328.5" stroke="#e30a17" stroke-width="1.3"/><polygon fill="#e30a17" points="803,315 800.4,320 805.6,320"/>
<line x1="909" y1="340" x2="909" y2="350" stroke="#e30a17" stroke-width="1.3"/><polygon fill="#e30a17" points="909,337 906.4,342 911.6,342"/>
<line x1="951.4" y1="337" x2="951.4" y2="347" stroke="#0a9be0" stroke-width="1.3"/><polygon fill="#0a9be0" points="951.4,350 948.8,345 954.0,345"/>
<line x1="974.5" y1="340" x2="974.5" y2="350" stroke="#e30a17" stroke-width="1.3"/><polygon fill="#e30a17" points="974.5,337 971.9,342 977.1,342"/>
<rect x="637.8" y="277.9" width="62.9" height="19.7" fill="#9b9b9b"/><circle cx="669.3" cy="287.6" r="11.799999999999999" fill="#fff" stroke="#9b9b9b" stroke-width="1.6"/><path d="M667.0,283.2 A5.0,5.0 0 0 1 674.3,287.4" fill="none" stroke="#0a9be0" stroke-width="3.4"/><polygon fill="#0a9be0" points="669.1,287.3 679.5,287.3 674.3,292.8"/><path d="M672.2,291.7 A5.0,5.0 0 0 1 664.3,287.4" fill="none" stroke="#e30a17" stroke-width="3.4"/><polygon fill="#e30a17" points="659.1,287.0 669.5,287.0 664.3,281.7"/>
<rect x="745" y="277.9" width="62.8" height="19.7" fill="#9b9b9b"/><circle cx="776.9" cy="287.6" r="11.799999999999999" fill="#fff" stroke="#9b9b9b" stroke-width="1.6"/><path d="M774.6,283.2 A5.0,5.0 0 0 1 781.9,287.4" fill="none" stroke="#0a9be0" stroke-width="3.4"/><polygon fill="#0a9be0" points="776.7,287.3 787.1,287.3 781.9,292.8"/><path d="M779.8,291.7 A5.0,5.0 0 0 1 771.9,287.4" fill="none" stroke="#e30a17" stroke-width="3.4"/><polygon fill="#e30a17" points="766.7,287.0 777.1,287.0 771.9,281.7"/>
<rect x="915.3" y="280.1" width="53.6" height="18.7" fill="#9b9b9b"/><circle cx="942.2" cy="289.7" r="12.1" fill="#fff" stroke="#9b9b9b" stroke-width="1.6"/><path d="M939.9,285.3 A5.0,5.0 0 0 1 947.2,289.5" fill="none" stroke="#0a9be0" stroke-width="3.4"/><polygon fill="#0a9be0" points="942.0,289.4 952.4,289.4 947.2,294.9"/><path d="M945.1,293.8 A5.0,5.0 0 0 1 937.2,289.5" fill="none" stroke="#e30a17" stroke-width="3.4"/><polygon fill="#e30a17" points="932.0,289.1 942.4,289.1 937.2,283.8"/>
<circle cx="936.8" cy="261.2" r="12.2" fill="#fff" stroke="#9b9b9b" stroke-width="1.5"/>
<polygon fill="#f29a14" points="938.6,253 931.2,262.6 936.2,262.4 934.4,269.5 942.2,260 937.3,260.2"/>
<g fill="none" stroke="#eeaa35" stroke-width="1.6"><polyline points="16.5,160 16.5,96.5 91,96.5"/><polyline points="265,96.5 329.5,96.5 329.5,160"/><rect x="91" y="86.3" width="174" height="20.6"/><polyline points="339.8,174 339.8,111.7 511,111.7"/><polyline points="745,111.7 931.5,111.7 931.5,175"/><rect x="511" y="101.3" width="234" height="21"/><polyline points="876.8,160 876.8,96.5 951,96.5"/><polyline points="1093,96.5 1156.5,96.5 1156.5,160"/><rect x="951" y="85.8" width="142" height="21"/></g>
<g font-family="Liberation Sans, sans-serif">
<text x="376" y="52.6" font-size="26.5" font-weight="bold" fill="#fff" textLength="415.5" lengthAdjust="spacingAndGlyphs">Geothermische Technologiefamilie</text>
<text x="99.6" y="101.5" font-size="13" font-weight="bold" fill="#eeaa35" textLength="158.3" lengthAdjust="spacingAndGlyphs">Wärme, Kälte, Speicherung</text>
<text x="522" y="117" font-size="13" font-weight="bold" fill="#eeaa35" textLength="209.8" lengthAdjust="spacingAndGlyphs">Wärme, Kälte, Speicherung &amp; Strom</text>
<text x="961.6" y="100.6" font-size="13" font-weight="bold" fill="#eeaa35" textLength="121.0" lengthAdjust="spacingAndGlyphs">Wärme, Kälte, Strom</text>
<text x="34.4" y="139.8" font-size="14.8" font-weight="normal" fill="#ffffff" textLength="139.1" lengthAdjust="spacingAndGlyphs" stroke="#fff" stroke-width="0.5">Erdwärmesonden &amp;</text>
<text x="34.4" y="159.7" font-size="14.8" font-weight="normal" fill="#ffffff" textLength="148.1" lengthAdjust="spacingAndGlyphs" stroke="#fff" stroke-width="0.5">Kollektoren, Energie-</text>
<text x="34.4" y="179" font-size="14.8" font-weight="normal" fill="#ffffff" textLength="43.6" lengthAdjust="spacingAndGlyphs" stroke="#fff" stroke-width="0.5">pfähle</text>
<text x="226.7" y="139.8" font-size="14.8" font-weight="normal" fill="#ffffff" textLength="77.8" lengthAdjust="spacingAndGlyphs" stroke="#fff" stroke-width="0.5">Erdwärme-</text>
<text x="226.7" y="159.7" font-size="14.8" font-weight="normal" fill="#ffffff" textLength="77.8" lengthAdjust="spacingAndGlyphs" stroke="#fff" stroke-width="0.5">sondenfeld</text>
<text x="377" y="157" font-size="15.3" font-weight="normal" fill="#ffffff" textLength="186.7" lengthAdjust="spacingAndGlyphs" stroke="#fff" stroke-width="0.5">Wärme- und Kältespeicher</text>
<text x="658" y="157" font-size="15.3" font-weight="normal" fill="#ffffff" textLength="174.5" lengthAdjust="spacingAndGlyphs" xml:space="preserve" stroke="#fff" stroke-width="0.5">Hydrothermale  Systeme</text>
<text x="958" y="157" font-size="15.3" font-weight="normal" fill="#ffffff" textLength="167.6" lengthAdjust="spacingAndGlyphs" xml:space="preserve" stroke="#fff" stroke-width="0.5">Petrothermales  System</text>
<text x="14.7" y="340" font-size="14.6" font-weight="normal" fill="#1e1e1e" textLength="35.0" lengthAdjust="spacingAndGlyphs" stroke="#1e1e1e" stroke-width="0.55">20 °C</text>
<text x="14.7" y="356.3" font-size="12" font-weight="normal" fill="#555555" textLength="32.6" lengthAdjust="spacingAndGlyphs">400 m</text>
<text x="16.3" y="508.5" font-size="14.6" font-weight="normal" fill="#1e1e1e" textLength="35.5" lengthAdjust="spacingAndGlyphs" stroke="#1e1e1e" stroke-width="0.55">60 °C</text>
<text x="14.4" y="581" font-size="12" font-weight="normal" fill="#555555" textLength="43.7" lengthAdjust="spacingAndGlyphs">3.000 m</text>
<text x="14.4" y="638.5" font-size="14.6" font-weight="normal" fill="#1e1e1e" textLength="44.7" lengthAdjust="spacingAndGlyphs" stroke="#1e1e1e" stroke-width="0.55">100 °C</text>
<text x="14.4" y="696.6" font-size="14.6" font-weight="normal" fill="#1e1e1e" textLength="53.3" lengthAdjust="spacingAndGlyphs" stroke="#1e1e1e" stroke-width="0.55">&gt; 130 °C</text>
<text x="14.4" y="711.3" font-size="12" font-weight="normal" fill="#555555" textLength="43.7" lengthAdjust="spacingAndGlyphs">5.000 m</text>
<text x="217.8" y="710.4" font-size="13.5" font-weight="normal" fill="#333333" textLength="74.4" lengthAdjust="spacingAndGlyphs">geschlossen</text>
<text x="524" y="710.4" font-size="13.5" font-weight="normal" fill="#333333" textLength="31.5" lengthAdjust="spacingAndGlyphs">offen</text>
<text x="742.8" y="696.7" font-size="13.5" font-weight="normal" fill="#333333" textLength="70.2" lengthAdjust="spacingAndGlyphs">hydraulisch</text>
<text x="742.8" y="712.8" font-size="13.5" font-weight="normal" fill="#333333" textLength="92.0" lengthAdjust="spacingAndGlyphs">gut durchlässig</text>
<text x="1002.5" y="633.3" font-size="13.5" font-weight="normal" fill="#333333" textLength="112.1" lengthAdjust="spacingAndGlyphs">hydraulisch gering</text>
<text x="1002.5" y="649.7" font-size="13.5" font-weight="normal" fill="#333333" textLength="135.2" lengthAdjust="spacingAndGlyphs">oder nicht durchlässig</text>
<text x="1126.6" y="724" font-size="11.5" font-weight="normal" fill="#fff" textLength="32.9" lengthAdjust="spacingAndGlyphs">© GFZ</text>
</g>
<path filter="url(#shadow)" fill="#fff" d="M1051.3,301.7 L1172,301.7 L1172,329.8 L1051.3,329.8 L1051.3,319.9 L1042.3,314.4 L1051.3,308.9 Z"/>
<path filter="url(#shadow)" fill="#fff" d="M1078.6,359.5 L1172,359.5 L1172,388.1 L1078.6,388.1 L1078.6,379.5 L1069.3,374 L1078.6,368.5 Z"/>
<path filter="url(#shadow)" fill="#fff" d="M1052.9,427 L1172,427 L1172,455.4 L1052.9,455.4 L1052.9,445.8 L1044.2,440.3 L1052.9,434.8 Z"/>
<g font-family="Liberation Sans, sans-serif">
<text x="1055.5" y="313.6" font-size="10" font-weight="bold" fill="#1a9ae0" textLength="76.1" lengthAdjust="spacingAndGlyphs">Grundwasser zur</text>
<text x="1055.5" y="323.3" font-size="10" font-weight="bold" fill="#1a9ae0" textLength="105.2" lengthAdjust="spacingAndGlyphs">Trinkwassergewinnung</text>
<text x="1083.4" y="372" font-size="10.5" font-weight="normal" fill="#555" textLength="76.8" lengthAdjust="spacingAndGlyphs" stroke="#555" stroke-width="0.25">wassersperrende</text>
<text x="1083.4" y="382.3" font-size="10.5" font-weight="normal" fill="#555" textLength="46.9" lengthAdjust="spacingAndGlyphs" stroke="#555" stroke-width="0.25">Formation</text>
<text x="1058.2" y="438.5" font-size="10.5" font-weight="bold" fill="#22a39b" textLength="66.8" lengthAdjust="spacingAndGlyphs">ungeeignet für</text>
<text x="1058.2" y="448.8" font-size="10.5" font-weight="bold" fill="#22a39b" textLength="104.4" lengthAdjust="spacingAndGlyphs">Trinkwassergewinnung</text>
</g>
</svg>
</body></html>
